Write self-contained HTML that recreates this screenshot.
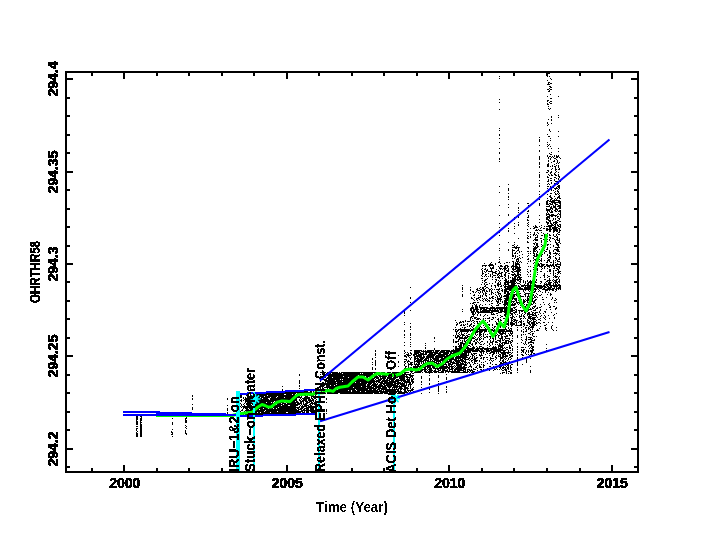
<!DOCTYPE html><html><head><meta charset="utf-8"><style>html,body{margin:0;padding:0;background:#fff;width:704px;height:544px;overflow:hidden}svg{display:block}text{font-family:"Liberation Sans",sans-serif}</style></head><body>
<svg width="704" height="544" viewBox="0 0 704 544">
<defs><filter id="bin" x="0" y="0" width="100%" height="100%" filterUnits="userSpaceOnUse" color-interpolation-filters="sRGB"><feComponentTransfer><feFuncA type="discrete" tableValues="0 1"/></feComponentTransfer></filter><filter id="bin2" x="0" y="0" width="100%" height="100%" filterUnits="userSpaceOnUse" color-interpolation-filters="sRGB"><feComponentTransfer><feFuncA type="discrete" tableValues="0 1 1"/></feComponentTransfer></filter></defs>
<path fill="#000" shape-rendering="crispEdges" d="M548 73h2v1h-2zM499 76h1v1h-1zM547 76h1v1h-1zM549 76h1v1h-1zM499 78h1v1h-1zM550 78h1v1h-1zM551 79h1v1h-1zM547 80h1v1h-1zM548 82h2v1h-2zM548 83h1v1h-1zM550 83h2v1h-2zM547 84h3v1h-3zM549 86h2v1h-2zM550 87h2v1h-2zM549 88h1v1h-1zM547 89h2v1h-2zM550 89h2v1h-2zM549 90h1v1h-1zM548 91h2v1h-2zM550 94h1v1h-1zM547 96h1v1h-1zM558 96h1v1h-1zM550 98h2v1h-2zM499 99h1v1h-1zM547 100h2v1h-2zM547 101h1v1h-1zM550 101h2v1h-2zM499 102h1v1h-1zM549 102h1v1h-1zM547 103h1v1h-1zM550 103h2v1h-2zM547 104h2v1h-2zM548 106h1v1h-1zM548 108h1v1h-1zM550 108h1v1h-1zM499 109h1v1h-1zM549 109h1v1h-1zM558 115h1v1h-1zM551 116h1v1h-1zM551 117h1v1h-1zM558 117h1v1h-1zM548 119h1v1h-1zM551 119h1v1h-1zM551 120h1v1h-1zM547 122h1v1h-1zM547 123h1v1h-1zM551 123h1v1h-1zM548 124h1v1h-1zM547 125h1v1h-1zM499 128h1v1h-1zM549 129h1v1h-1zM499 130h1v1h-1zM549 130h1v1h-1zM550 131h1v1h-1zM558 131h1v1h-1zM499 134h1v1h-1zM547 134h1v1h-1zM499 135h1v1h-1zM548 136h2v1h-2zM558 136h1v1h-1zM539 137h1v1h-1zM499 138h1v1h-1zM550 138h1v1h-1zM539 139h1v1h-1zM539 140h1v1h-1zM550 140h1v1h-1zM539 141h1v1h-1zM499 142h1v1h-1zM547 142h1v1h-1zM547 144h1v1h-1zM549 144h1v1h-1zM539 145h1v1h-1zM548 145h1v1h-1zM547 146h1v1h-1zM550 146h1v1h-1zM499 148h1v1h-1zM548 148h1v1h-1zM551 148h1v1h-1zM558 148h1v1h-1zM539 150h1v1h-1zM539 151h1v1h-1zM558 151h1v1h-1zM499 152h1v1h-1zM551 152h1v1h-1zM499 153h1v1h-1zM549 153h1v1h-1zM550 154h2v1h-2zM547 155h1v1h-1zM554 155h1v1h-1zM556 155h1v1h-1zM558 155h1v1h-1zM539 156h1v1h-1zM547 156h1v1h-1zM549 156h2v1h-2zM552 156h1v1h-1zM554 156h1v1h-1zM556 156h3v1h-3zM539 157h1v1h-1zM548 157h1v1h-1zM551 157h1v1h-1zM553 157h1v1h-1zM556 157h2v1h-2zM559 157h1v1h-1zM499 158h1v1h-1zM539 158h1v1h-1zM548 158h1v1h-1zM550 158h1v1h-1zM554 158h2v1h-2zM560 158h1v1h-1zM499 159h1v1h-1zM539 159h1v1h-1zM550 159h1v1h-1zM556 159h1v1h-1zM548 160h1v1h-1zM554 160h1v1h-1zM557 160h1v1h-1zM499 161h1v1h-1zM548 161h1v1h-1zM553 161h2v1h-2zM557 161h1v1h-1zM539 162h1v1h-1zM551 162h1v1h-1zM557 162h1v1h-1zM559 162h1v1h-1zM539 163h1v1h-1zM548 163h1v1h-1zM556 163h1v1h-1zM558 163h1v1h-1zM539 164h1v1h-1zM547 164h2v1h-2zM554 164h1v1h-1zM547 165h2v1h-2zM552 165h1v1h-1zM556 165h1v1h-1zM558 165h1v1h-1zM539 166h1v1h-1zM547 166h2v1h-2zM550 166h1v1h-1zM552 166h1v1h-1zM554 166h2v1h-2zM558 166h1v1h-1zM539 167h1v1h-1zM555 167h1v1h-1zM558 167h1v1h-1zM552 168h1v1h-1zM555 168h1v1h-1zM559 168h1v1h-1zM551 169h1v1h-1zM555 169h2v1h-2zM558 169h2v1h-2zM547 170h2v1h-2zM555 170h1v1h-1zM548 171h1v1h-1zM551 171h1v1h-1zM556 171h1v1h-1zM539 172h1v1h-1zM546 172h2v1h-2zM550 172h2v1h-2zM555 172h1v1h-1zM558 172h1v1h-1zM550 173h1v1h-1zM554 173h1v1h-1zM539 174h1v1h-1zM548 174h1v1h-1zM551 174h1v1h-1zM554 174h2v1h-2zM558 174h1v1h-1zM539 175h1v1h-1zM549 175h1v1h-1zM551 175h2v1h-2zM555 175h2v1h-2zM558 175h1v1h-1zM539 176h1v1h-1zM547 176h1v1h-1zM558 176h2v1h-2zM539 177h1v1h-1zM547 177h2v1h-2zM554 177h2v1h-2zM559 177h1v1h-1zM550 178h2v1h-2zM556 178h1v1h-1zM558 178h1v1h-1zM548 179h1v1h-1zM554 179h1v1h-1zM558 179h1v1h-1zM539 180h1v1h-1zM548 180h1v1h-1zM550 180h2v1h-2zM554 180h1v1h-1zM559 180h1v1h-1zM547 181h2v1h-2zM555 181h6v1h-6zM551 182h1v1h-1zM539 183h1v1h-1zM548 183h1v1h-1zM551 183h1v1h-1zM554 183h3v1h-3zM558 183h1v1h-1zM508 184h1v1h-1zM547 184h1v1h-1zM549 184h1v1h-1zM554 184h1v1h-1zM557 184h1v1h-1zM539 185h1v1h-1zM558 185h2v1h-2zM499 186h1v1h-1zM539 186h1v1h-1zM547 186h2v1h-2zM550 186h1v1h-1zM552 186h1v1h-1zM557 186h3v1h-3zM550 187h4v1h-4zM556 187h1v1h-1zM558 187h2v1h-2zM508 188h1v1h-1zM547 188h1v1h-1zM550 188h2v1h-2zM554 188h4v1h-4zM559 188h1v1h-1zM508 189h1v1h-1zM548 189h1v1h-1zM551 189h1v1h-1zM555 189h1v1h-1zM558 189h1v1h-1zM508 190h1v1h-1zM547 190h1v1h-1zM551 190h1v1h-1zM553 190h1v1h-1zM557 190h1v1h-1zM539 191h1v1h-1zM548 191h1v1h-1zM555 191h1v1h-1zM557 191h2v1h-2zM499 192h1v1h-1zM554 192h1v1h-1zM558 192h1v1h-1zM508 193h1v1h-1zM550 193h2v1h-2zM555 193h1v1h-1zM557 193h1v1h-1zM559 193h1v1h-1zM539 194h1v1h-1zM547 194h1v1h-1zM555 194h2v1h-2zM558 194h1v1h-1zM550 195h1v1h-1zM559 195h1v1h-1zM508 196h1v1h-1zM539 196h1v1h-1zM549 196h2v1h-2zM554 196h1v1h-1zM558 196h2v1h-2zM508 197h1v1h-1zM550 197h2v1h-2zM557 197h3v1h-3zM547 198h1v1h-1zM551 198h2v1h-2zM555 198h1v1h-1zM557 198h1v1h-1zM559 198h2v1h-2zM508 199h1v1h-1zM539 199h1v1h-1zM550 199h2v1h-2zM554 199h1v1h-1zM556 199h1v1h-1zM547 200h2v1h-2zM550 200h1v1h-1zM552 200h8v1h-8zM546 201h2v1h-2zM549 201h6v1h-6zM558 201h3v1h-3zM546 202h2v1h-2zM551 202h10v1h-10zM518 203h1v1h-1zM527 203h2v1h-2zM539 203h1v1h-1zM546 203h2v1h-2zM549 203h2v1h-2zM552 203h1v1h-1zM554 203h2v1h-2zM559 203h2v1h-2zM508 204h1v1h-1zM539 204h1v1h-1zM546 204h3v1h-3zM550 204h3v1h-3zM555 204h3v1h-3zM560 204h1v1h-1zM499 205h1v1h-1zM528 205h1v1h-1zM539 205h1v1h-1zM549 205h1v1h-1zM553 205h1v1h-1zM555 205h1v1h-1zM558 205h3v1h-3zM528 206h1v1h-1zM546 206h4v1h-4zM551 206h1v1h-1zM553 206h3v1h-3zM557 206h4v1h-4zM508 207h1v1h-1zM518 207h1v1h-1zM527 207h1v1h-1zM550 207h2v1h-2zM553 207h3v1h-3zM559 207h2v1h-2zM518 208h1v1h-1zM546 208h1v1h-1zM550 208h3v1h-3zM555 208h2v1h-2zM558 208h3v1h-3zM546 209h5v1h-5zM552 209h1v1h-1zM555 209h3v1h-3zM518 210h1v1h-1zM528 210h1v1h-1zM546 210h4v1h-4zM551 210h1v1h-1zM554 210h2v1h-2zM557 210h1v1h-1zM559 210h2v1h-2zM527 211h2v1h-2zM547 211h1v1h-1zM549 211h1v1h-1zM551 211h2v1h-2zM555 211h2v1h-2zM558 211h3v1h-3zM518 212h1v1h-1zM547 212h1v1h-1zM550 212h3v1h-3zM560 212h1v1h-1zM527 213h1v1h-1zM546 213h1v1h-1zM548 213h1v1h-1zM558 213h1v1h-1zM560 213h1v1h-1zM508 214h1v1h-1zM546 214h4v1h-4zM551 214h3v1h-3zM557 214h1v1h-1zM559 214h2v1h-2zM499 215h1v1h-1zM508 215h1v1h-1zM528 215h1v1h-1zM539 215h1v1h-1zM546 215h1v1h-1zM549 215h8v1h-8zM560 215h1v1h-1zM518 216h1v1h-1zM528 216h1v1h-1zM547 216h3v1h-3zM551 216h2v1h-2zM555 216h1v1h-1zM557 216h2v1h-2zM560 216h1v1h-1zM514 217h1v1h-1zM518 217h1v1h-1zM527 217h2v1h-2zM546 217h4v1h-4zM557 217h1v1h-1zM560 217h1v1h-1zM514 218h1v1h-1zM546 218h2v1h-2zM549 218h1v1h-1zM553 218h1v1h-1zM555 218h1v1h-1zM558 218h2v1h-2zM514 219h1v1h-1zM527 219h1v1h-1zM539 219h1v1h-1zM546 219h3v1h-3zM553 219h1v1h-1zM555 219h1v1h-1zM559 219h1v1h-1zM527 220h2v1h-2zM548 220h3v1h-3zM552 220h1v1h-1zM557 220h2v1h-2zM546 221h1v1h-1zM549 221h2v1h-2zM555 221h2v1h-2zM559 221h2v1h-2zM508 222h1v1h-1zM518 222h1v1h-1zM528 222h1v1h-1zM539 222h1v1h-1zM546 222h3v1h-3zM550 222h1v1h-1zM553 222h5v1h-5zM499 223h1v1h-1zM514 223h1v1h-1zM527 223h1v1h-1zM547 223h2v1h-2zM550 223h2v1h-2zM553 223h1v1h-1zM555 223h2v1h-2zM518 224h1v1h-1zM528 224h1v1h-1zM547 224h1v1h-1zM551 224h2v1h-2zM554 224h2v1h-2zM557 224h1v1h-1zM559 224h2v1h-2zM518 225h1v1h-1zM527 225h1v1h-1zM535 225h1v1h-1zM541 225h1v1h-1zM548 225h6v1h-6zM555 225h1v1h-1zM557 225h2v1h-2zM560 225h1v1h-1zM514 226h1v1h-1zM528 226h1v1h-1zM533 226h1v1h-1zM535 226h2v1h-2zM539 226h1v1h-1zM544 226h1v1h-1zM546 226h6v1h-6zM554 226h2v1h-2zM558 226h3v1h-3zM499 227h1v1h-1zM534 227h4v1h-4zM541 227h1v1h-1zM549 227h2v1h-2zM552 227h6v1h-6zM560 227h1v1h-1zM508 228h1v1h-1zM514 228h1v1h-1zM530 228h1v1h-1zM533 228h2v1h-2zM540 228h1v1h-1zM543 228h2v1h-2zM546 228h2v1h-2zM549 228h2v1h-2zM552 228h5v1h-5zM558 228h2v1h-2zM527 229h1v1h-1zM536 229h1v1h-1zM538 229h1v1h-1zM546 229h6v1h-6zM553 229h5v1h-5zM559 229h1v1h-1zM508 230h1v1h-1zM535 230h3v1h-3zM539 230h3v1h-3zM546 230h2v1h-2zM549 230h2v1h-2zM553 230h5v1h-5zM559 230h2v1h-2zM499 231h1v1h-1zM508 231h1v1h-1zM549 231h2v1h-2zM553 231h2v1h-2zM556 231h2v1h-2zM559 231h1v1h-1zM499 232h1v1h-1zM527 232h2v1h-2zM530 232h1v1h-1zM534 232h1v1h-1zM537 232h1v1h-1zM541 232h1v1h-1zM553 232h1v1h-1zM558 232h2v1h-2zM514 233h1v1h-1zM534 233h1v1h-1zM538 233h1v1h-1zM543 233h1v1h-1zM547 233h1v1h-1zM557 233h1v1h-1zM530 234h1v1h-1zM533 234h2v1h-2zM536 234h1v1h-1zM544 234h1v1h-1zM546 234h1v1h-1zM549 234h1v1h-1zM553 234h1v1h-1zM556 234h1v1h-1zM558 234h2v1h-2zM499 235h1v1h-1zM527 235h1v1h-1zM533 235h1v1h-1zM535 235h1v1h-1zM537 235h1v1h-1zM541 235h2v1h-2zM544 235h1v1h-1zM547 235h1v1h-1zM549 235h2v1h-2zM553 235h1v1h-1zM556 235h1v1h-1zM528 236h1v1h-1zM530 236h1v1h-1zM537 236h1v1h-1zM544 236h2v1h-2zM547 236h1v1h-1zM554 236h2v1h-2zM557 236h1v1h-1zM527 237h1v1h-1zM530 237h1v1h-1zM535 237h3v1h-3zM544 237h1v1h-1zM549 237h2v1h-2zM556 237h2v1h-2zM518 238h1v1h-1zM527 238h2v1h-2zM535 238h1v1h-1zM540 238h2v1h-2zM550 238h1v1h-1zM552 238h2v1h-2zM557 238h1v1h-1zM559 238h1v1h-1zM534 239h4v1h-4zM543 239h2v1h-2zM547 239h1v1h-1zM549 239h1v1h-1zM554 239h1v1h-1zM556 239h2v1h-2zM559 239h1v1h-1zM533 240h1v1h-1zM535 240h3v1h-3zM541 240h1v1h-1zM544 240h1v1h-1zM549 240h1v1h-1zM555 240h1v1h-1zM557 240h3v1h-3zM527 241h1v1h-1zM541 241h1v1h-1zM547 241h1v1h-1zM550 241h1v1h-1zM555 241h1v1h-1zM559 241h1v1h-1zM508 242h1v1h-1zM514 242h1v1h-1zM527 242h2v1h-2zM535 242h1v1h-1zM541 242h1v1h-1zM545 242h1v1h-1zM555 242h2v1h-2zM558 242h2v1h-2zM533 243h2v1h-2zM536 243h2v1h-2zM544 243h1v1h-1zM556 243h2v1h-2zM560 243h1v1h-1zM499 244h1v1h-1zM514 244h1v1h-1zM534 244h1v1h-1zM536 244h2v1h-2zM541 244h1v1h-1zM547 244h2v1h-2zM550 244h1v1h-1zM556 244h3v1h-3zM512 245h2v1h-2zM517 245h1v1h-1zM536 245h2v1h-2zM542 245h1v1h-1zM547 245h1v1h-1zM553 245h1v1h-1zM557 245h2v1h-2zM514 246h1v1h-1zM516 246h1v1h-1zM533 246h1v1h-1zM535 246h1v1h-1zM537 246h2v1h-2zM541 246h1v1h-1zM553 246h1v1h-1zM558 246h1v1h-1zM512 247h8v1h-8zM527 247h2v1h-2zM534 247h4v1h-4zM544 247h1v1h-1zM547 247h1v1h-1zM550 247h1v1h-1zM555 247h5v1h-5zM499 248h1v1h-1zM515 248h2v1h-2zM518 248h1v1h-1zM528 248h1v1h-1zM533 248h4v1h-4zM547 248h1v1h-1zM557 248h1v1h-1zM508 249h1v1h-1zM512 249h1v1h-1zM518 249h1v1h-1zM533 249h3v1h-3zM539 249h1v1h-1zM546 249h2v1h-2zM554 249h5v1h-5zM499 250h1v1h-1zM508 250h1v1h-1zM512 250h3v1h-3zM517 250h2v1h-2zM533 250h2v1h-2zM536 250h1v1h-1zM541 250h1v1h-1zM544 250h1v1h-1zM549 250h1v1h-1zM553 250h1v1h-1zM556 250h3v1h-3zM512 251h1v1h-1zM516 251h1v1h-1zM519 251h1v1h-1zM521 251h1v1h-1zM527 251h2v1h-2zM530 251h1v1h-1zM533 251h3v1h-3zM537 251h1v1h-1zM545 251h2v1h-2zM549 251h1v1h-1zM553 251h1v1h-1zM557 251h3v1h-3zM512 252h1v1h-1zM515 252h1v1h-1zM519 252h1v1h-1zM533 252h1v1h-1zM537 252h1v1h-1zM541 252h1v1h-1zM544 252h1v1h-1zM549 252h2v1h-2zM555 252h1v1h-1zM512 253h1v1h-1zM514 253h2v1h-2zM517 253h1v1h-1zM528 253h1v1h-1zM530 253h1v1h-1zM533 253h2v1h-2zM536 253h1v1h-1zM539 253h1v1h-1zM541 253h1v1h-1zM544 253h1v1h-1zM549 253h2v1h-2zM553 253h5v1h-5zM559 253h1v1h-1zM512 254h1v1h-1zM522 254h1v1h-1zM534 254h1v1h-1zM536 254h2v1h-2zM541 254h2v1h-2zM547 254h1v1h-1zM550 254h1v1h-1zM556 254h1v1h-1zM558 254h1v1h-1zM512 255h2v1h-2zM515 255h1v1h-1zM519 255h1v1h-1zM528 255h1v1h-1zM533 255h2v1h-2zM536 255h3v1h-3zM541 255h1v1h-1zM547 255h1v1h-1zM549 255h1v1h-1zM555 255h1v1h-1zM559 255h1v1h-1zM512 256h2v1h-2zM515 256h1v1h-1zM517 256h1v1h-1zM527 256h1v1h-1zM534 256h3v1h-3zM541 256h1v1h-1zM549 256h2v1h-2zM553 256h1v1h-1zM499 257h1v1h-1zM515 257h1v1h-1zM519 257h1v1h-1zM522 257h1v1h-1zM533 257h1v1h-1zM548 257h3v1h-3zM555 257h1v1h-1zM559 257h1v1h-1zM512 258h1v1h-1zM514 258h1v1h-1zM517 258h2v1h-2zM520 258h1v1h-1zM528 258h1v1h-1zM533 258h1v1h-1zM536 258h3v1h-3zM541 258h1v1h-1zM547 258h1v1h-1zM550 258h1v1h-1zM555 258h2v1h-2zM559 258h1v1h-1zM499 259h1v1h-1zM516 259h3v1h-3zM527 259h2v1h-2zM534 259h2v1h-2zM539 259h1v1h-1zM541 259h1v1h-1zM548 259h2v1h-2zM556 259h1v1h-1zM558 259h2v1h-2zM516 260h1v1h-1zM518 260h1v1h-1zM530 260h1v1h-1zM533 260h1v1h-1zM535 260h3v1h-3zM540 260h2v1h-2zM544 260h1v1h-1zM547 260h3v1h-3zM553 260h1v1h-1zM555 260h1v1h-1zM557 260h1v1h-1zM499 261h1v1h-1zM512 261h2v1h-2zM516 261h3v1h-3zM520 261h1v1h-1zM528 261h1v1h-1zM530 261h1v1h-1zM539 261h1v1h-1zM541 261h1v1h-1zM547 261h1v1h-1zM549 261h1v1h-1zM553 261h1v1h-1zM557 261h3v1h-3zM491 262h1v1h-1zM498 262h2v1h-2zM506 262h2v1h-2zM509 262h1v1h-1zM513 262h1v1h-1zM515 262h1v1h-1zM517 262h1v1h-1zM519 262h1v1h-1zM521 262h1v1h-1zM534 262h1v1h-1zM546 262h2v1h-2zM550 262h2v1h-2zM553 262h1v1h-1zM555 262h1v1h-1zM560 262h1v1h-1zM484 263h1v1h-1zM490 263h1v1h-1zM495 263h1v1h-1zM500 263h1v1h-1zM504 263h1v1h-1zM513 263h1v1h-1zM515 263h4v1h-4zM527 263h1v1h-1zM533 263h1v1h-1zM535 263h2v1h-2zM538 263h1v1h-1zM540 263h2v1h-2zM553 263h1v1h-1zM557 263h1v1h-1zM560 263h1v1h-1zM489 264h4v1h-4zM495 264h1v1h-1zM513 264h1v1h-1zM515 264h5v1h-5zM535 264h5v1h-5zM541 264h4v1h-4zM546 264h2v1h-2zM550 264h1v1h-1zM552 264h2v1h-2zM555 264h6v1h-6zM482 265h5v1h-5zM488 265h6v1h-6zM500 265h2v1h-2zM505 265h3v1h-3zM512 265h2v1h-2zM515 265h2v1h-2zM519 265h1v1h-1zM534 265h6v1h-6zM541 265h3v1h-3zM546 265h8v1h-8zM555 265h2v1h-2zM560 265h1v1h-1zM482 266h1v1h-1zM485 266h1v1h-1zM489 266h1v1h-1zM493 266h1v1h-1zM498 266h1v1h-1zM500 266h3v1h-3zM504 266h2v1h-2zM507 266h2v1h-2zM511 266h7v1h-7zM519 266h1v1h-1zM528 266h1v1h-1zM530 266h1v1h-1zM535 266h1v1h-1zM537 266h1v1h-1zM539 266h4v1h-4zM544 266h2v1h-2zM547 266h3v1h-3zM551 266h1v1h-1zM553 266h2v1h-2zM556 266h4v1h-4zM490 267h1v1h-1zM492 267h2v1h-2zM499 267h1v1h-1zM504 267h2v1h-2zM507 267h1v1h-1zM511 267h1v1h-1zM513 267h1v1h-1zM515 267h6v1h-6zM533 267h1v1h-1zM541 267h1v1h-1zM544 267h1v1h-1zM549 267h1v1h-1zM554 267h1v1h-1zM558 267h2v1h-2zM482 268h1v1h-1zM485 268h1v1h-1zM490 268h4v1h-4zM499 268h3v1h-3zM503 268h4v1h-4zM508 268h1v1h-1zM512 268h2v1h-2zM515 268h5v1h-5zM537 268h1v1h-1zM542 268h1v1h-1zM544 268h1v1h-1zM547 268h1v1h-1zM553 268h2v1h-2zM556 268h2v1h-2zM559 268h1v1h-1zM481 269h1v1h-1zM484 269h2v1h-2zM487 269h1v1h-1zM491 269h1v1h-1zM496 269h1v1h-1zM500 269h1v1h-1zM502 269h1v1h-1zM504 269h2v1h-2zM508 269h1v1h-1zM512 269h4v1h-4zM517 269h4v1h-4zM527 269h1v1h-1zM533 269h5v1h-5zM541 269h1v1h-1zM549 269h2v1h-2zM557 269h2v1h-2zM482 270h1v1h-1zM486 270h2v1h-2zM491 270h1v1h-1zM498 270h1v1h-1zM504 270h1v1h-1zM506 270h3v1h-3zM513 270h1v1h-1zM516 270h5v1h-5zM530 270h1v1h-1zM535 270h1v1h-1zM537 270h1v1h-1zM549 270h2v1h-2zM553 270h1v1h-1zM555 270h2v1h-2zM558 270h1v1h-1zM482 271h1v1h-1zM484 271h1v1h-1zM486 271h1v1h-1zM488 271h5v1h-5zM495 271h2v1h-2zM499 271h1v1h-1zM504 271h1v1h-1zM507 271h2v1h-2zM511 271h2v1h-2zM514 271h6v1h-6zM527 271h1v1h-1zM530 271h1v1h-1zM534 271h2v1h-2zM540 271h2v1h-2zM547 271h1v1h-1zM549 271h2v1h-2zM553 271h1v1h-1zM558 271h3v1h-3zM482 272h1v1h-1zM485 272h1v1h-1zM492 272h4v1h-4zM499 272h1v1h-1zM501 272h2v1h-2zM505 272h2v1h-2zM512 272h2v1h-2zM517 272h2v1h-2zM520 272h1v1h-1zM528 272h1v1h-1zM535 272h1v1h-1zM537 272h1v1h-1zM553 272h1v1h-1zM557 272h3v1h-3zM482 273h2v1h-2zM488 273h1v1h-1zM492 273h1v1h-1zM495 273h2v1h-2zM498 273h4v1h-4zM505 273h1v1h-1zM508 273h2v1h-2zM514 273h1v1h-1zM517 273h2v1h-2zM544 273h1v1h-1zM550 273h1v1h-1zM553 273h1v1h-1zM555 273h1v1h-1zM558 273h1v1h-1zM560 273h1v1h-1zM482 274h1v1h-1zM485 274h2v1h-2zM490 274h1v1h-1zM492 274h1v1h-1zM497 274h2v1h-2zM501 274h1v1h-1zM504 274h2v1h-2zM511 274h5v1h-5zM517 274h4v1h-4zM527 274h1v1h-1zM530 274h1v1h-1zM533 274h3v1h-3zM537 274h1v1h-1zM544 274h1v1h-1zM553 274h1v1h-1zM557 274h1v1h-1zM481 275h1v1h-1zM485 275h1v1h-1zM490 275h1v1h-1zM493 275h3v1h-3zM497 275h1v1h-1zM499 275h1v1h-1zM501 275h1v1h-1zM504 275h2v1h-2zM508 275h1v1h-1zM512 275h2v1h-2zM515 275h4v1h-4zM520 275h1v1h-1zM534 275h1v1h-1zM543 275h2v1h-2zM547 275h1v1h-1zM553 275h1v1h-1zM555 275h1v1h-1zM482 276h1v1h-1zM484 276h1v1h-1zM486 276h1v1h-1zM488 276h1v1h-1zM490 276h1v1h-1zM492 276h1v1h-1zM498 276h1v1h-1zM500 276h3v1h-3zM505 276h1v1h-1zM508 276h1v1h-1zM514 276h3v1h-3zM518 276h2v1h-2zM528 276h1v1h-1zM530 276h1v1h-1zM534 276h1v1h-1zM536 276h1v1h-1zM544 276h1v1h-1zM548 276h2v1h-2zM554 276h4v1h-4zM559 276h1v1h-1zM492 277h1v1h-1zM495 277h1v1h-1zM497 277h3v1h-3zM504 277h1v1h-1zM508 277h1v1h-1zM510 277h1v1h-1zM512 277h1v1h-1zM514 277h2v1h-2zM517 277h5v1h-5zM533 277h2v1h-2zM540 277h1v1h-1zM544 277h1v1h-1zM547 277h1v1h-1zM553 277h1v1h-1zM555 277h2v1h-2zM558 277h1v1h-1zM481 278h2v1h-2zM487 278h1v1h-1zM499 278h1v1h-1zM502 278h1v1h-1zM505 278h1v1h-1zM508 278h1v1h-1zM512 278h4v1h-4zM517 278h1v1h-1zM519 278h2v1h-2zM549 278h1v1h-1zM558 278h1v1h-1zM485 279h2v1h-2zM492 279h1v1h-1zM495 279h2v1h-2zM505 279h2v1h-2zM512 279h10v1h-10zM536 279h1v1h-1zM544 279h2v1h-2zM549 279h1v1h-1zM553 279h1v1h-1zM556 279h2v1h-2zM559 279h1v1h-1zM482 280h1v1h-1zM484 280h2v1h-2zM496 280h1v1h-1zM498 280h1v1h-1zM500 280h1v1h-1zM504 280h3v1h-3zM508 280h1v1h-1zM510 280h6v1h-6zM517 280h2v1h-2zM520 280h1v1h-1zM523 280h1v1h-1zM527 280h1v1h-1zM530 280h1v1h-1zM532 280h3v1h-3zM536 280h1v1h-1zM547 280h4v1h-4zM552 280h1v1h-1zM554 280h3v1h-3zM559 280h1v1h-1zM484 281h1v1h-1zM495 281h1v1h-1zM499 281h1v1h-1zM505 281h4v1h-4zM510 281h6v1h-6zM519 281h2v1h-2zM523 281h1v1h-1zM525 281h1v1h-1zM527 281h1v1h-1zM529 281h3v1h-3zM533 281h3v1h-3zM540 281h2v1h-2zM546 281h2v1h-2zM549 281h1v1h-1zM553 281h1v1h-1zM555 281h2v1h-2zM558 281h2v1h-2zM482 282h1v1h-1zM485 282h2v1h-2zM495 282h1v1h-1zM498 282h1v1h-1zM500 282h1v1h-1zM504 282h11v1h-11zM516 282h1v1h-1zM520 282h1v1h-1zM523 282h1v1h-1zM525 282h1v1h-1zM528 282h4v1h-4zM533 282h4v1h-4zM541 282h1v1h-1zM545 282h1v1h-1zM548 282h4v1h-4zM554 282h4v1h-4zM559 282h1v1h-1zM484 283h1v1h-1zM489 283h1v1h-1zM492 283h1v1h-1zM497 283h2v1h-2zM500 283h1v1h-1zM504 283h2v1h-2zM507 283h2v1h-2zM511 283h5v1h-5zM517 283h3v1h-3zM525 283h1v1h-1zM527 283h2v1h-2zM530 283h5v1h-5zM540 283h1v1h-1zM544 283h1v1h-1zM546 283h1v1h-1zM548 283h3v1h-3zM553 283h1v1h-1zM555 283h1v1h-1zM557 283h1v1h-1zM481 284h1v1h-1zM484 284h1v1h-1zM486 284h2v1h-2zM497 284h4v1h-4zM504 284h5v1h-5zM511 284h4v1h-4zM520 284h1v1h-1zM524 284h1v1h-1zM527 284h2v1h-2zM530 284h1v1h-1zM533 284h3v1h-3zM544 284h7v1h-7zM553 284h1v1h-1zM555 284h2v1h-2zM558 284h2v1h-2zM462 285h1v1h-1zM485 285h1v1h-1zM491 285h1v1h-1zM494 285h2v1h-2zM497 285h2v1h-2zM501 285h1v1h-1zM503 285h1v1h-1zM505 285h1v1h-1zM508 285h9v1h-9zM518 285h1v1h-1zM521 285h21v1h-21zM543 285h2v1h-2zM546 285h2v1h-2zM549 285h12v1h-12zM484 286h2v1h-2zM491 286h1v1h-1zM495 286h1v1h-1zM498 286h1v1h-1zM500 286h2v1h-2zM504 286h11v1h-11zM516 286h1v1h-1zM518 286h2v1h-2zM521 286h3v1h-3zM525 286h1v1h-1zM527 286h5v1h-5zM533 286h13v1h-13zM547 286h2v1h-2zM550 286h2v1h-2zM553 286h5v1h-5zM559 286h2v1h-2zM410 287h1v1h-1zM462 287h1v1h-1zM470 287h1v1h-1zM480 287h1v1h-1zM482 287h2v1h-2zM486 287h2v1h-2zM495 287h1v1h-1zM504 287h2v1h-2zM507 287h11v1h-11zM519 287h2v1h-2zM524 287h10v1h-10zM536 287h7v1h-7zM544 287h3v1h-3zM548 287h4v1h-4zM554 287h1v1h-1zM556 287h1v1h-1zM558 287h3v1h-3zM462 288h1v1h-1zM477 288h1v1h-1zM479 288h1v1h-1zM482 288h2v1h-2zM485 288h1v1h-1zM488 288h1v1h-1zM491 288h1v1h-1zM499 288h1v1h-1zM501 288h1v1h-1zM505 288h18v1h-18zM524 288h12v1h-12zM537 288h1v1h-1zM539 288h3v1h-3zM543 288h2v1h-2zM547 288h4v1h-4zM552 288h3v1h-3zM556 288h5v1h-5zM462 289h1v1h-1zM470 289h1v1h-1zM476 289h2v1h-2zM480 289h2v1h-2zM483 289h2v1h-2zM489 289h2v1h-2zM492 289h1v1h-1zM494 289h1v1h-1zM496 289h4v1h-4zM502 289h1v1h-1zM504 289h33v1h-33zM538 289h1v1h-1zM542 289h12v1h-12zM555 289h2v1h-2zM558 289h1v1h-1zM560 289h1v1h-1zM470 290h1v1h-1zM477 290h3v1h-3zM482 290h3v1h-3zM486 290h1v1h-1zM489 290h1v1h-1zM491 290h1v1h-1zM498 290h1v1h-1zM501 290h2v1h-2zM504 290h3v1h-3zM509 290h6v1h-6zM517 290h1v1h-1zM523 290h1v1h-1zM525 290h1v1h-1zM528 290h1v1h-1zM530 290h4v1h-4zM535 290h1v1h-1zM539 290h1v1h-1zM545 290h3v1h-3zM549 290h1v1h-1zM552 290h2v1h-2zM556 290h1v1h-1zM462 291h1v1h-1zM472 291h2v1h-2zM476 291h1v1h-1zM480 291h1v1h-1zM482 291h1v1h-1zM484 291h1v1h-1zM486 291h2v1h-2zM489 291h1v1h-1zM491 291h1v1h-1zM497 291h1v1h-1zM499 291h1v1h-1zM502 291h1v1h-1zM504 291h5v1h-5zM511 291h3v1h-3zM515 291h1v1h-1zM519 291h1v1h-1zM523 291h1v1h-1zM529 291h1v1h-1zM532 291h1v1h-1zM534 291h2v1h-2zM538 291h1v1h-1zM540 291h1v1h-1zM545 291h1v1h-1zM555 291h1v1h-1zM473 292h1v1h-1zM475 292h1v1h-1zM478 292h1v1h-1zM480 292h1v1h-1zM482 292h1v1h-1zM485 292h1v1h-1zM491 292h2v1h-2zM495 292h1v1h-1zM497 292h2v1h-2zM504 292h2v1h-2zM507 292h2v1h-2zM510 292h1v1h-1zM513 292h2v1h-2zM524 292h1v1h-1zM533 292h2v1h-2zM542 292h1v1h-1zM545 292h1v1h-1zM548 292h1v1h-1zM470 293h1v1h-1zM479 293h1v1h-1zM483 293h1v1h-1zM485 293h2v1h-2zM491 293h1v1h-1zM493 293h1v1h-1zM498 293h3v1h-3zM504 293h2v1h-2zM507 293h3v1h-3zM511 293h2v1h-2zM516 293h1v1h-1zM519 293h2v1h-2zM525 293h7v1h-7zM536 293h1v1h-1zM550 293h1v1h-1zM462 294h1v1h-1zM474 294h1v1h-1zM483 294h1v1h-1zM485 294h1v1h-1zM489 294h1v1h-1zM491 294h1v1h-1zM495 294h1v1h-1zM498 294h1v1h-1zM500 294h1v1h-1zM506 294h4v1h-4zM511 294h7v1h-7zM519 294h1v1h-1zM524 294h2v1h-2zM528 294h1v1h-1zM531 294h3v1h-3zM537 294h1v1h-1zM541 294h1v1h-1zM547 294h1v1h-1zM550 294h2v1h-2zM462 295h1v1h-1zM473 295h2v1h-2zM478 295h1v1h-1zM480 295h1v1h-1zM482 295h1v1h-1zM485 295h2v1h-2zM496 295h1v1h-1zM499 295h1v1h-1zM501 295h1v1h-1zM504 295h5v1h-5zM511 295h4v1h-4zM516 295h1v1h-1zM520 295h1v1h-1zM525 295h1v1h-1zM528 295h1v1h-1zM530 295h1v1h-1zM532 295h2v1h-2zM535 295h1v1h-1zM539 295h2v1h-2zM550 295h1v1h-1zM462 296h1v1h-1zM480 296h1v1h-1zM482 296h1v1h-1zM486 296h1v1h-1zM492 296h2v1h-2zM497 296h1v1h-1zM499 296h1v1h-1zM501 296h1v1h-1zM503 296h6v1h-6zM511 296h4v1h-4zM517 296h1v1h-1zM520 296h4v1h-4zM525 296h1v1h-1zM527 296h3v1h-3zM532 296h1v1h-1zM534 296h1v1h-1zM536 296h1v1h-1zM410 297h1v1h-1zM471 297h1v1h-1zM474 297h1v1h-1zM478 297h3v1h-3zM489 297h1v1h-1zM491 297h2v1h-2zM495 297h1v1h-1zM497 297h1v1h-1zM500 297h2v1h-2zM506 297h3v1h-3zM510 297h4v1h-4zM520 297h1v1h-1zM527 297h1v1h-1zM529 297h1v1h-1zM532 297h1v1h-1zM534 297h2v1h-2zM537 297h1v1h-1zM542 297h1v1h-1zM546 297h1v1h-1zM552 297h1v1h-1zM410 298h1v1h-1zM471 298h2v1h-2zM476 298h3v1h-3zM482 298h1v1h-1zM484 298h1v1h-1zM486 298h1v1h-1zM489 298h2v1h-2zM492 298h2v1h-2zM497 298h4v1h-4zM504 298h5v1h-5zM511 298h6v1h-6zM518 298h1v1h-1zM520 298h1v1h-1zM527 298h2v1h-2zM532 298h2v1h-2zM552 298h1v1h-1zM555 298h1v1h-1zM473 299h1v1h-1zM476 299h1v1h-1zM479 299h1v1h-1zM483 299h1v1h-1zM485 299h1v1h-1zM487 299h1v1h-1zM495 299h1v1h-1zM497 299h5v1h-5zM505 299h4v1h-4zM512 299h1v1h-1zM514 299h3v1h-3zM519 299h1v1h-1zM521 299h1v1h-1zM523 299h1v1h-1zM525 299h1v1h-1zM527 299h3v1h-3zM532 299h1v1h-1zM535 299h2v1h-2zM542 299h2v1h-2zM551 299h1v1h-1zM556 299h1v1h-1zM474 300h1v1h-1zM477 300h1v1h-1zM480 300h1v1h-1zM482 300h1v1h-1zM485 300h2v1h-2zM488 300h2v1h-2zM492 300h1v1h-1zM496 300h1v1h-1zM498 300h1v1h-1zM500 300h1v1h-1zM504 300h5v1h-5zM510 300h2v1h-2zM515 300h2v1h-2zM518 300h3v1h-3zM523 300h2v1h-2zM526 300h3v1h-3zM530 300h1v1h-1zM532 300h1v1h-1zM534 300h2v1h-2zM554 300h2v1h-2zM483 301h1v1h-1zM487 301h1v1h-1zM489 301h1v1h-1zM491 301h1v1h-1zM496 301h3v1h-3zM500 301h1v1h-1zM502 301h1v1h-1zM504 301h3v1h-3zM508 301h1v1h-1zM511 301h4v1h-4zM516 301h1v1h-1zM519 301h1v1h-1zM523 301h3v1h-3zM527 301h1v1h-1zM529 301h1v1h-1zM531 301h4v1h-4zM410 302h1v1h-1zM473 302h3v1h-3zM477 302h2v1h-2zM497 302h2v1h-2zM502 302h1v1h-1zM504 302h5v1h-5zM510 302h2v1h-2zM513 302h1v1h-1zM516 302h5v1h-5zM523 302h2v1h-2zM527 302h3v1h-3zM533 302h2v1h-2zM543 302h1v1h-1zM554 302h1v1h-1zM556 302h1v1h-1zM470 303h1v1h-1zM472 303h2v1h-2zM491 303h2v1h-2zM497 303h1v1h-1zM499 303h2v1h-2zM504 303h4v1h-4zM509 303h1v1h-1zM512 303h1v1h-1zM514 303h2v1h-2zM517 303h1v1h-1zM519 303h5v1h-5zM529 303h3v1h-3zM533 303h1v1h-1zM535 303h1v1h-1zM549 303h1v1h-1zM474 304h1v1h-1zM476 304h1v1h-1zM480 304h1v1h-1zM485 304h1v1h-1zM489 304h1v1h-1zM498 304h1v1h-1zM503 304h6v1h-6zM511 304h5v1h-5zM518 304h1v1h-1zM524 304h1v1h-1zM526 304h7v1h-7zM540 304h1v1h-1zM544 304h1v1h-1zM548 304h1v1h-1zM472 305h1v1h-1zM475 305h2v1h-2zM479 305h1v1h-1zM482 305h1v1h-1zM491 305h1v1h-1zM496 305h3v1h-3zM504 305h2v1h-2zM507 305h2v1h-2zM510 305h5v1h-5zM520 305h2v1h-2zM523 305h1v1h-1zM526 305h5v1h-5zM535 305h1v1h-1zM549 305h1v1h-1zM472 306h1v1h-1zM475 306h3v1h-3zM479 306h1v1h-1zM492 306h1v1h-1zM504 306h1v1h-1zM506 306h1v1h-1zM508 306h3v1h-3zM516 306h1v1h-1zM524 306h2v1h-2zM528 306h2v1h-2zM533 306h3v1h-3zM541 306h1v1h-1zM550 306h1v1h-1zM553 306h2v1h-2zM471 307h3v1h-3zM475 307h3v1h-3zM479 307h9v1h-9zM490 307h5v1h-5zM496 307h15v1h-15zM513 307h3v1h-3zM520 307h1v1h-1zM523 307h3v1h-3zM527 307h3v1h-3zM532 307h1v1h-1zM534 307h1v1h-1zM537 307h1v1h-1zM539 307h2v1h-2zM549 307h2v1h-2zM556 307h1v1h-1zM470 308h4v1h-4zM475 308h3v1h-3zM480 308h5v1h-5zM486 308h27v1h-27zM514 308h1v1h-1zM528 308h1v1h-1zM530 308h1v1h-1zM532 308h2v1h-2zM536 308h2v1h-2zM555 308h2v1h-2zM462 309h1v1h-1zM470 309h2v1h-2zM473 309h6v1h-6zM480 309h2v1h-2zM483 309h4v1h-4zM489 309h2v1h-2zM492 309h1v1h-1zM494 309h2v1h-2zM497 309h1v1h-1zM499 309h4v1h-4zM504 309h5v1h-5zM510 309h3v1h-3zM515 309h2v1h-2zM524 309h2v1h-2zM528 309h4v1h-4zM535 309h1v1h-1zM540 309h1v1h-1zM546 309h1v1h-1zM550 309h1v1h-1zM555 309h1v1h-1zM410 310h1v1h-1zM470 310h2v1h-2zM473 310h2v1h-2zM476 310h2v1h-2zM480 310h1v1h-1zM482 310h17v1h-17zM500 310h3v1h-3zM504 310h11v1h-11zM516 310h1v1h-1zM518 310h6v1h-6zM526 310h1v1h-1zM528 310h1v1h-1zM533 310h3v1h-3zM540 310h1v1h-1zM404 311h1v1h-1zM462 311h1v1h-1zM471 311h4v1h-4zM476 311h3v1h-3zM480 311h10v1h-10zM491 311h8v1h-8zM500 311h9v1h-9zM510 311h3v1h-3zM515 311h2v1h-2zM519 311h1v1h-1zM521 311h2v1h-2zM524 311h2v1h-2zM527 311h1v1h-1zM531 311h1v1h-1zM539 311h1v1h-1zM544 311h2v1h-2zM404 312h1v1h-1zM471 312h3v1h-3zM475 312h1v1h-1zM477 312h16v1h-16zM498 312h4v1h-4zM504 312h7v1h-7zM513 312h4v1h-4zM519 312h1v1h-1zM524 312h2v1h-2zM528 312h2v1h-2zM532 312h2v1h-2zM535 312h3v1h-3zM539 312h1v1h-1zM545 312h1v1h-1zM551 312h1v1h-1zM404 313h1v1h-1zM472 313h2v1h-2zM475 313h1v1h-1zM478 313h1v1h-1zM491 313h1v1h-1zM493 313h1v1h-1zM496 313h2v1h-2zM505 313h3v1h-3zM510 313h3v1h-3zM514 313h1v1h-1zM519 313h1v1h-1zM522 313h1v1h-1zM525 313h1v1h-1zM527 313h3v1h-3zM532 313h1v1h-1zM534 313h2v1h-2zM540 313h1v1h-1zM543 313h1v1h-1zM556 313h1v1h-1zM472 314h3v1h-3zM477 314h1v1h-1zM480 314h1v1h-1zM485 314h1v1h-1zM491 314h4v1h-4zM504 314h5v1h-5zM511 314h2v1h-2zM515 314h1v1h-1zM517 314h1v1h-1zM521 314h1v1h-1zM524 314h1v1h-1zM527 314h7v1h-7zM535 314h1v1h-1zM538 314h1v1h-1zM554 314h1v1h-1zM404 315h1v1h-1zM473 315h1v1h-1zM477 315h1v1h-1zM480 315h1v1h-1zM484 315h1v1h-1zM487 315h1v1h-1zM497 315h1v1h-1zM500 315h1v1h-1zM504 315h2v1h-2zM508 315h1v1h-1zM510 315h1v1h-1zM512 315h1v1h-1zM519 315h1v1h-1zM521 315h1v1h-1zM523 315h1v1h-1zM527 315h1v1h-1zM529 315h1v1h-1zM532 315h5v1h-5zM541 315h1v1h-1zM544 315h1v1h-1zM548 315h1v1h-1zM553 315h1v1h-1zM471 316h3v1h-3zM483 316h1v1h-1zM501 316h2v1h-2zM505 316h1v1h-1zM508 316h1v1h-1zM512 316h2v1h-2zM516 316h1v1h-1zM519 316h3v1h-3zM523 316h2v1h-2zM528 316h4v1h-4zM536 316h1v1h-1zM540 316h1v1h-1zM545 316h1v1h-1zM470 317h2v1h-2zM474 317h3v1h-3zM489 317h1v1h-1zM492 317h2v1h-2zM495 317h1v1h-1zM500 317h1v1h-1zM506 317h1v1h-1zM508 317h1v1h-1zM510 317h3v1h-3zM514 317h1v1h-1zM519 317h1v1h-1zM524 317h1v1h-1zM528 317h3v1h-3zM532 317h4v1h-4zM537 317h1v1h-1zM543 317h1v1h-1zM545 317h1v1h-1zM554 317h1v1h-1zM470 318h1v1h-1zM472 318h1v1h-1zM474 318h2v1h-2zM477 318h3v1h-3zM483 318h1v1h-1zM485 318h1v1h-1zM487 318h3v1h-3zM493 318h1v1h-1zM498 318h1v1h-1zM503 318h2v1h-2zM506 318h3v1h-3zM511 318h2v1h-2zM520 318h2v1h-2zM523 318h1v1h-1zM525 318h1v1h-1zM528 318h7v1h-7zM540 318h1v1h-1zM544 318h1v1h-1zM549 318h1v1h-1zM554 318h1v1h-1zM470 319h1v1h-1zM476 319h3v1h-3zM480 319h1v1h-1zM483 319h1v1h-1zM491 319h2v1h-2zM497 319h2v1h-2zM500 319h1v1h-1zM505 319h4v1h-4zM511 319h1v1h-1zM513 319h3v1h-3zM520 319h1v1h-1zM527 319h1v1h-1zM530 319h1v1h-1zM532 319h4v1h-4zM538 319h2v1h-2zM545 319h1v1h-1zM455 320h1v1h-1zM465 320h1v1h-1zM470 320h1v1h-1zM472 320h2v1h-2zM483 320h1v1h-1zM485 320h1v1h-1zM489 320h1v1h-1zM498 320h1v1h-1zM500 320h2v1h-2zM506 320h3v1h-3zM511 320h2v1h-2zM514 320h4v1h-4zM521 320h1v1h-1zM527 320h2v1h-2zM531 320h1v1h-1zM533 320h1v1h-1zM536 320h1v1h-1zM540 320h1v1h-1zM460 321h1v1h-1zM462 321h2v1h-2zM465 321h1v1h-1zM467 321h3v1h-3zM471 321h1v1h-1zM474 321h1v1h-1zM476 321h2v1h-2zM479 321h1v1h-1zM489 321h1v1h-1zM495 321h1v1h-1zM498 321h1v1h-1zM505 321h4v1h-4zM511 321h1v1h-1zM513 321h2v1h-2zM516 321h1v1h-1zM519 321h3v1h-3zM523 321h1v1h-1zM527 321h1v1h-1zM529 321h2v1h-2zM533 321h3v1h-3zM404 322h1v1h-1zM456 322h1v1h-1zM459 322h3v1h-3zM463 322h1v1h-1zM473 322h1v1h-1zM477 322h1v1h-1zM487 322h1v1h-1zM496 322h1v1h-1zM503 322h1v1h-1zM506 322h1v1h-1zM508 322h1v1h-1zM510 322h3v1h-3zM515 322h2v1h-2zM518 322h1v1h-1zM520 322h2v1h-2zM527 322h3v1h-3zM531 322h4v1h-4zM536 322h1v1h-1zM538 322h2v1h-2zM543 322h2v1h-2zM548 322h1v1h-1zM552 322h1v1h-1zM410 323h1v1h-1zM457 323h1v1h-1zM459 323h1v1h-1zM467 323h1v1h-1zM471 323h1v1h-1zM474 323h1v1h-1zM477 323h4v1h-4zM483 323h1v1h-1zM496 323h3v1h-3zM505 323h4v1h-4zM510 323h5v1h-5zM516 323h1v1h-1zM521 323h1v1h-1zM523 323h2v1h-2zM528 323h2v1h-2zM531 323h4v1h-4zM536 323h2v1h-2zM540 323h1v1h-1zM404 324h1v1h-1zM456 324h2v1h-2zM461 324h1v1h-1zM463 324h1v1h-1zM465 324h1v1h-1zM467 324h1v1h-1zM470 324h2v1h-2zM478 324h1v1h-1zM488 324h2v1h-2zM492 324h1v1h-1zM496 324h3v1h-3zM500 324h1v1h-1zM506 324h3v1h-3zM510 324h5v1h-5zM516 324h1v1h-1zM520 324h2v1h-2zM523 324h2v1h-2zM529 324h2v1h-2zM532 324h4v1h-4zM546 324h1v1h-1zM456 325h1v1h-1zM460 325h2v1h-2zM463 325h2v1h-2zM469 325h2v1h-2zM473 325h2v1h-2zM483 325h1v1h-1zM487 325h1v1h-1zM489 325h1v1h-1zM492 325h1v1h-1zM497 325h1v1h-1zM500 325h1v1h-1zM502 325h1v1h-1zM505 325h1v1h-1zM508 325h1v1h-1zM511 325h2v1h-2zM515 325h7v1h-7zM524 325h1v1h-1zM526 325h2v1h-2zM530 325h1v1h-1zM532 325h3v1h-3zM536 325h1v1h-1zM544 325h2v1h-2zM552 325h1v1h-1zM410 326h1v1h-1zM467 326h1v1h-1zM469 326h1v1h-1zM471 326h1v1h-1zM473 326h1v1h-1zM476 326h1v1h-1zM480 326h1v1h-1zM485 326h1v1h-1zM487 326h1v1h-1zM494 326h2v1h-2zM500 326h1v1h-1zM504 326h1v1h-1zM506 326h1v1h-1zM511 326h1v1h-1zM523 326h1v1h-1zM529 326h1v1h-1zM531 326h3v1h-3zM540 326h1v1h-1zM551 326h1v1h-1zM410 327h1v1h-1zM455 327h1v1h-1zM462 327h1v1h-1zM464 327h2v1h-2zM472 327h1v1h-1zM475 327h3v1h-3zM479 327h1v1h-1zM481 327h1v1h-1zM484 327h1v1h-1zM489 327h1v1h-1zM492 327h1v1h-1zM494 327h1v1h-1zM497 327h2v1h-2zM500 327h1v1h-1zM505 327h1v1h-1zM508 327h1v1h-1zM517 327h1v1h-1zM521 327h1v1h-1zM525 327h2v1h-2zM528 327h1v1h-1zM530 327h4v1h-4zM545 327h1v1h-1zM551 327h1v1h-1zM556 327h1v1h-1zM460 328h1v1h-1zM464 328h1v1h-1zM470 328h1v1h-1zM473 328h1v1h-1zM478 328h2v1h-2zM485 328h1v1h-1zM489 328h1v1h-1zM493 328h1v1h-1zM498 328h1v1h-1zM505 328h1v1h-1zM508 328h1v1h-1zM510 328h2v1h-2zM525 328h1v1h-1zM528 328h2v1h-2zM532 328h1v1h-1zM539 328h1v1h-1zM545 328h2v1h-2zM551 328h1v1h-1zM410 329h1v1h-1zM453 329h1v1h-1zM455 329h2v1h-2zM458 329h12v1h-12zM471 329h5v1h-5zM477 329h16v1h-16zM494 329h1v1h-1zM496 329h11v1h-11zM509 329h1v1h-1zM511 329h1v1h-1zM517 329h1v1h-1zM523 329h1v1h-1zM526 329h1v1h-1zM528 329h1v1h-1zM530 329h1v1h-1zM532 329h1v1h-1zM537 329h1v1h-1zM545 329h1v1h-1zM552 329h1v1h-1zM404 330h1v1h-1zM455 330h1v1h-1zM457 330h2v1h-2zM460 330h18v1h-18zM479 330h8v1h-8zM488 330h9v1h-9zM498 330h7v1h-7zM506 330h6v1h-6zM517 330h1v1h-1zM521 330h1v1h-1zM526 330h1v1h-1zM530 330h1v1h-1zM536 330h3v1h-3zM546 330h1v1h-1zM553 330h1v1h-1zM556 330h1v1h-1zM404 331h1v1h-1zM455 331h3v1h-3zM460 331h9v1h-9zM470 331h1v1h-1zM473 331h1v1h-1zM475 331h8v1h-8zM484 331h3v1h-3zM488 331h4v1h-4zM493 331h3v1h-3zM497 331h16v1h-16zM521 331h1v1h-1zM523 331h1v1h-1zM525 331h2v1h-2zM531 331h2v1h-2zM534 331h1v1h-1zM456 332h1v1h-1zM459 332h1v1h-1zM461 332h1v1h-1zM467 332h1v1h-1zM473 332h5v1h-5zM479 332h3v1h-3zM484 332h1v1h-1zM495 332h2v1h-2zM498 332h3v1h-3zM502 332h2v1h-2zM505 332h1v1h-1zM510 332h1v1h-1zM512 332h1v1h-1zM523 332h1v1h-1zM530 332h1v1h-1zM410 333h1v1h-1zM456 333h1v1h-1zM458 333h1v1h-1zM461 333h1v1h-1zM464 333h1v1h-1zM466 333h1v1h-1zM471 333h1v1h-1zM475 333h1v1h-1zM479 333h2v1h-2zM483 333h1v1h-1zM489 333h1v1h-1zM491 333h1v1h-1zM494 333h1v1h-1zM496 333h1v1h-1zM499 333h7v1h-7zM508 333h1v1h-1zM510 333h3v1h-3zM528 333h2v1h-2zM532 333h2v1h-2zM404 334h1v1h-1zM410 334h1v1h-1zM456 334h1v1h-1zM459 334h1v1h-1zM461 334h3v1h-3zM468 334h2v1h-2zM473 334h1v1h-1zM475 334h1v1h-1zM477 334h1v1h-1zM479 334h3v1h-3zM483 334h1v1h-1zM485 334h1v1h-1zM487 334h1v1h-1zM495 334h1v1h-1zM497 334h1v1h-1zM500 334h3v1h-3zM505 334h1v1h-1zM509 334h1v1h-1zM511 334h1v1h-1zM521 334h1v1h-1zM523 334h1v1h-1zM525 334h1v1h-1zM530 334h1v1h-1zM532 334h1v1h-1zM404 335h1v1h-1zM410 335h1v1h-1zM453 335h1v1h-1zM455 335h1v1h-1zM457 335h2v1h-2zM460 335h1v1h-1zM462 335h3v1h-3zM466 335h2v1h-2zM472 335h1v1h-1zM476 335h1v1h-1zM479 335h2v1h-2zM483 335h1v1h-1zM495 335h2v1h-2zM498 335h2v1h-2zM501 335h1v1h-1zM506 335h2v1h-2zM509 335h2v1h-2zM512 335h1v1h-1zM517 335h1v1h-1zM521 335h1v1h-1zM532 335h1v1h-1zM455 336h1v1h-1zM457 336h3v1h-3zM462 336h1v1h-1zM465 336h1v1h-1zM467 336h3v1h-3zM471 336h1v1h-1zM474 336h1v1h-1zM479 336h1v1h-1zM481 336h1v1h-1zM483 336h1v1h-1zM486 336h2v1h-2zM489 336h2v1h-2zM492 336h2v1h-2zM495 336h1v1h-1zM498 336h1v1h-1zM501 336h2v1h-2zM504 336h4v1h-4zM512 336h1v1h-1zM517 336h1v1h-1zM526 336h1v1h-1zM533 336h2v1h-2zM536 336h1v1h-1zM404 337h1v1h-1zM410 337h1v1h-1zM434 337h1v1h-1zM455 337h3v1h-3zM459 337h4v1h-4zM464 337h4v1h-4zM469 337h5v1h-5zM475 337h1v1h-1zM478 337h1v1h-1zM480 337h1v1h-1zM484 337h2v1h-2zM487 337h1v1h-1zM490 337h1v1h-1zM492 337h1v1h-1zM495 337h1v1h-1zM498 337h1v1h-1zM501 337h2v1h-2zM505 337h1v1h-1zM517 337h1v1h-1zM521 337h1v1h-1zM526 337h1v1h-1zM528 337h4v1h-4zM434 338h1v1h-1zM456 338h1v1h-1zM459 338h8v1h-8zM468 338h7v1h-7zM477 338h1v1h-1zM479 338h1v1h-1zM481 338h1v1h-1zM483 338h1v1h-1zM490 338h1v1h-1zM492 338h2v1h-2zM495 338h1v1h-1zM499 338h4v1h-4zM505 338h5v1h-5zM512 338h1v1h-1zM526 338h1v1h-1zM530 338h1v1h-1zM532 338h1v1h-1zM410 339h1v1h-1zM453 339h1v1h-1zM458 339h2v1h-2zM464 339h1v1h-1zM467 339h2v1h-2zM471 339h1v1h-1zM475 339h3v1h-3zM479 339h2v1h-2zM483 339h1v1h-1zM489 339h1v1h-1zM493 339h1v1h-1zM495 339h1v1h-1zM500 339h1v1h-1zM502 339h1v1h-1zM504 339h1v1h-1zM509 339h1v1h-1zM521 339h1v1h-1zM525 339h2v1h-2zM528 339h4v1h-4zM534 339h1v1h-1zM453 340h1v1h-1zM458 340h1v1h-1zM460 340h1v1h-1zM462 340h1v1h-1zM464 340h1v1h-1zM466 340h1v1h-1zM470 340h2v1h-2zM474 340h1v1h-1zM476 340h1v1h-1zM479 340h1v1h-1zM490 340h1v1h-1zM493 340h1v1h-1zM497 340h4v1h-4zM502 340h2v1h-2zM505 340h4v1h-4zM511 340h2v1h-2zM522 340h1v1h-1zM526 340h1v1h-1zM531 340h4v1h-4zM434 341h1v1h-1zM453 341h1v1h-1zM455 341h4v1h-4zM462 341h1v1h-1zM464 341h2v1h-2zM467 341h1v1h-1zM470 341h1v1h-1zM473 341h2v1h-2zM477 341h1v1h-1zM481 341h2v1h-2zM487 341h1v1h-1zM490 341h1v1h-1zM492 341h2v1h-2zM495 341h2v1h-2zM499 341h2v1h-2zM505 341h2v1h-2zM508 341h3v1h-3zM512 341h1v1h-1zM525 341h1v1h-1zM530 341h2v1h-2zM404 342h1v1h-1zM410 342h1v1h-1zM453 342h1v1h-1zM455 342h2v1h-2zM460 342h3v1h-3zM465 342h1v1h-1zM469 342h2v1h-2zM475 342h2v1h-2zM478 342h1v1h-1zM480 342h1v1h-1zM487 342h1v1h-1zM490 342h3v1h-3zM495 342h3v1h-3zM500 342h1v1h-1zM502 342h5v1h-5zM508 342h1v1h-1zM510 342h2v1h-2zM521 342h1v1h-1zM525 342h1v1h-1zM528 342h6v1h-6zM425 343h1v1h-1zM458 343h1v1h-1zM460 343h6v1h-6zM469 343h2v1h-2zM472 343h1v1h-1zM475 343h2v1h-2zM479 343h1v1h-1zM484 343h1v1h-1zM489 343h1v1h-1zM492 343h1v1h-1zM499 343h1v1h-1zM501 343h2v1h-2zM504 343h5v1h-5zM510 343h1v1h-1zM517 343h1v1h-1zM523 343h1v1h-1zM525 343h1v1h-1zM528 343h1v1h-1zM533 343h1v1h-1zM410 344h1v1h-1zM458 344h1v1h-1zM460 344h2v1h-2zM463 344h2v1h-2zM471 344h2v1h-2zM475 344h1v1h-1zM480 344h2v1h-2zM483 344h1v1h-1zM489 344h1v1h-1zM492 344h1v1h-1zM495 344h1v1h-1zM497 344h1v1h-1zM499 344h2v1h-2zM502 344h1v1h-1zM504 344h1v1h-1zM511 344h1v1h-1zM524 344h1v1h-1zM526 344h1v1h-1zM530 344h2v1h-2zM546 344h1v1h-1zM404 345h1v1h-1zM425 345h1v1h-1zM459 345h3v1h-3zM463 345h1v1h-1zM465 345h1v1h-1zM468 345h2v1h-2zM472 345h1v1h-1zM487 345h1v1h-1zM490 345h1v1h-1zM498 345h6v1h-6zM509 345h1v1h-1zM511 345h1v1h-1zM529 345h1v1h-1zM531 345h1v1h-1zM410 346h1v1h-1zM453 346h1v1h-1zM455 346h2v1h-2zM458 346h4v1h-4zM463 346h3v1h-3zM467 346h1v1h-1zM470 346h1v1h-1zM473 346h1v1h-1zM476 346h1v1h-1zM479 346h3v1h-3zM489 346h1v1h-1zM493 346h1v1h-1zM495 346h1v1h-1zM498 346h5v1h-5zM509 346h1v1h-1zM512 346h1v1h-1zM517 346h1v1h-1zM528 346h1v1h-1zM531 346h3v1h-3zM425 347h1v1h-1zM455 347h2v1h-2zM459 347h4v1h-4zM465 347h4v1h-4zM472 347h3v1h-3zM477 347h1v1h-1zM479 347h1v1h-1zM482 347h2v1h-2zM487 347h1v1h-1zM492 347h5v1h-5zM498 347h1v1h-1zM500 347h3v1h-3zM504 347h1v1h-1zM506 347h2v1h-2zM509 347h2v1h-2zM517 347h1v1h-1zM521 347h3v1h-3zM525 347h1v1h-1zM530 347h1v1h-1zM532 347h2v1h-2zM425 348h1v1h-1zM434 348h1v1h-1zM455 348h10v1h-10zM466 348h9v1h-9zM476 348h21v1h-21zM498 348h3v1h-3zM502 348h2v1h-2zM505 348h1v1h-1zM509 348h2v1h-2zM512 348h1v1h-1zM529 348h1v1h-1zM531 348h2v1h-2zM546 348h1v1h-1zM434 349h1v1h-1zM453 349h1v1h-1zM455 349h7v1h-7zM464 349h2v1h-2zM467 349h7v1h-7zM475 349h4v1h-4zM480 349h3v1h-3zM484 349h5v1h-5zM490 349h13v1h-13zM506 349h2v1h-2zM512 349h1v1h-1zM517 349h1v1h-1zM521 349h1v1h-1zM523 349h2v1h-2zM532 349h2v1h-2zM375 350h1v1h-1zM404 350h1v1h-1zM410 350h2v1h-2zM414 350h8v1h-8zM423 350h1v1h-1zM425 350h1v1h-1zM427 350h7v1h-7zM435 350h5v1h-5zM441 350h9v1h-9zM451 350h29v1h-29zM481 350h3v1h-3zM486 350h6v1h-6zM493 350h13v1h-13zM508 350h1v1h-1zM510 350h1v1h-1zM512 350h1v1h-1zM521 350h3v1h-3zM526 350h1v1h-1zM528 350h1v1h-1zM530 350h4v1h-4zM546 350h1v1h-1zM375 351h1v1h-1zM404 351h1v1h-1zM414 351h6v1h-6zM421 351h11v1h-11zM433 351h1v1h-1zM435 351h4v1h-4zM440 351h5v1h-5zM446 351h25v1h-25zM472 351h6v1h-6zM479 351h6v1h-6zM486 351h4v1h-4zM491 351h10v1h-10zM503 351h2v1h-2zM508 351h1v1h-1zM517 351h1v1h-1zM522 351h2v1h-2zM526 351h1v1h-1zM528 351h1v1h-1zM530 351h3v1h-3zM405 352h1v1h-1zM407 352h1v1h-1zM410 352h1v1h-1zM414 352h7v1h-7zM423 352h1v1h-1zM425 352h13v1h-13zM439 352h10v1h-10zM450 352h2v1h-2zM453 352h10v1h-10zM464 352h7v1h-7zM480 352h2v1h-2zM483 352h1v1h-1zM486 352h1v1h-1zM490 352h5v1h-5zM496 352h1v1h-1zM498 352h1v1h-1zM500 352h11v1h-11zM512 352h1v1h-1zM517 352h1v1h-1zM521 352h1v1h-1zM523 352h1v1h-1zM525 352h1v1h-1zM528 352h1v1h-1zM531 352h2v1h-2zM375 353h1v1h-1zM404 353h1v1h-1zM408 353h1v1h-1zM410 353h2v1h-2zM414 353h5v1h-5zM420 353h4v1h-4zM425 353h2v1h-2zM429 353h4v1h-4zM434 353h7v1h-7zM443 353h6v1h-6zM450 353h9v1h-9zM460 353h7v1h-7zM468 353h1v1h-1zM471 353h1v1h-1zM473 353h4v1h-4zM481 353h1v1h-1zM483 353h1v1h-1zM487 353h1v1h-1zM489 353h2v1h-2zM493 353h2v1h-2zM496 353h1v1h-1zM498 353h1v1h-1zM501 353h5v1h-5zM507 353h2v1h-2zM511 353h1v1h-1zM525 353h1v1h-1zM531 353h1v1h-1zM533 353h2v1h-2zM375 354h1v1h-1zM406 354h3v1h-3zM411 354h1v1h-1zM413 354h4v1h-4zM418 354h9v1h-9zM428 354h8v1h-8zM438 354h10v1h-10zM449 354h2v1h-2zM453 354h1v1h-1zM456 354h1v1h-1zM458 354h9v1h-9zM468 354h1v1h-1zM471 354h2v1h-2zM474 354h1v1h-1zM479 354h1v1h-1zM481 354h1v1h-1zM485 354h1v1h-1zM492 354h2v1h-2zM499 354h2v1h-2zM502 354h4v1h-4zM509 354h2v1h-2zM517 354h1v1h-1zM521 354h2v1h-2zM526 354h1v1h-1zM528 354h1v1h-1zM530 354h2v1h-2zM375 355h1v1h-1zM398 355h1v1h-1zM404 355h2v1h-2zM407 355h4v1h-4zM413 355h2v1h-2zM416 355h6v1h-6zM423 355h1v1h-1zM427 355h8v1h-8zM436 355h9v1h-9zM446 355h11v1h-11zM458 355h1v1h-1zM460 355h9v1h-9zM472 355h2v1h-2zM476 355h1v1h-1zM479 355h4v1h-4zM489 355h1v1h-1zM492 355h1v1h-1zM496 355h1v1h-1zM498 355h1v1h-1zM500 355h1v1h-1zM502 355h2v1h-2zM505 355h3v1h-3zM509 355h1v1h-1zM511 355h2v1h-2zM517 355h1v1h-1zM522 355h2v1h-2zM529 355h1v1h-1zM532 355h1v1h-1zM404 356h3v1h-3zM408 356h1v1h-1zM414 356h8v1h-8zM423 356h2v1h-2zM426 356h8v1h-8zM435 356h17v1h-17zM454 356h1v1h-1zM456 356h11v1h-11zM470 356h1v1h-1zM472 356h1v1h-1zM474 356h1v1h-1zM480 356h1v1h-1zM492 356h1v1h-1zM495 356h1v1h-1zM498 356h3v1h-3zM502 356h6v1h-6zM510 356h3v1h-3zM375 357h1v1h-1zM406 357h1v1h-1zM409 357h1v1h-1zM411 357h1v1h-1zM414 357h2v1h-2zM417 357h1v1h-1zM419 357h6v1h-6zM426 357h8v1h-8zM435 357h8v1h-8zM444 357h10v1h-10zM455 357h13v1h-13zM469 357h1v1h-1zM472 357h1v1h-1zM474 357h1v1h-1zM476 357h2v1h-2zM481 357h1v1h-1zM483 357h2v1h-2zM486 357h2v1h-2zM490 357h1v1h-1zM495 357h2v1h-2zM500 357h4v1h-4zM505 357h1v1h-1zM509 357h2v1h-2zM517 357h1v1h-1zM522 357h1v1h-1zM526 357h1v1h-1zM372 358h1v1h-1zM410 358h1v1h-1zM414 358h5v1h-5zM420 358h4v1h-4zM425 358h4v1h-4zM430 358h1v1h-1zM432 358h7v1h-7zM441 358h5v1h-5zM448 358h6v1h-6zM455 358h6v1h-6zM462 358h4v1h-4zM468 358h2v1h-2zM471 358h2v1h-2zM474 358h3v1h-3zM480 358h2v1h-2zM483 358h1v1h-1zM490 358h4v1h-4zM496 358h1v1h-1zM500 358h3v1h-3zM504 358h1v1h-1zM506 358h1v1h-1zM508 358h1v1h-1zM511 358h1v1h-1zM517 358h1v1h-1zM526 358h1v1h-1zM530 358h1v1h-1zM372 359h1v1h-1zM404 359h3v1h-3zM410 359h1v1h-1zM414 359h2v1h-2zM417 359h6v1h-6zM424 359h3v1h-3zM428 359h1v1h-1zM430 359h2v1h-2zM433 359h6v1h-6zM440 359h17v1h-17zM458 359h1v1h-1zM460 359h3v1h-3zM464 359h5v1h-5zM470 359h1v1h-1zM473 359h3v1h-3zM483 359h1v1h-1zM487 359h1v1h-1zM490 359h1v1h-1zM495 359h1v1h-1zM500 359h1v1h-1zM503 359h1v1h-1zM505 359h1v1h-1zM508 359h1v1h-1zM510 359h1v1h-1zM517 359h1v1h-1zM526 359h1v1h-1zM375 360h1v1h-1zM406 360h1v1h-1zM408 360h1v1h-1zM414 360h1v1h-1zM416 360h6v1h-6zM423 360h6v1h-6zM430 360h1v1h-1zM432 360h1v1h-1zM434 360h14v1h-14zM449 360h3v1h-3zM454 360h10v1h-10zM465 360h1v1h-1zM469 360h1v1h-1zM471 360h2v1h-2zM474 360h4v1h-4zM479 360h1v1h-1zM489 360h1v1h-1zM491 360h1v1h-1zM493 360h1v1h-1zM500 360h1v1h-1zM502 360h2v1h-2zM507 360h1v1h-1zM517 360h1v1h-1zM526 360h1v1h-1zM375 361h1v1h-1zM398 361h1v1h-1zM404 361h2v1h-2zM407 361h3v1h-3zM414 361h10v1h-10zM425 361h1v1h-1zM427 361h8v1h-8zM436 361h5v1h-5zM442 361h10v1h-10zM453 361h1v1h-1zM455 361h5v1h-5zM461 361h5v1h-5zM471 361h1v1h-1zM474 361h3v1h-3zM479 361h1v1h-1zM485 361h1v1h-1zM492 361h1v1h-1zM499 361h1v1h-1zM502 361h2v1h-2zM505 361h1v1h-1zM509 361h1v1h-1zM512 361h1v1h-1zM517 361h1v1h-1zM526 361h1v1h-1zM372 362h1v1h-1zM375 362h1v1h-1zM398 362h1v1h-1zM404 362h1v1h-1zM407 362h1v1h-1zM410 362h3v1h-3zM414 362h1v1h-1zM417 362h3v1h-3zM421 362h1v1h-1zM423 362h1v1h-1zM425 362h1v1h-1zM428 362h5v1h-5zM434 362h3v1h-3zM438 362h1v1h-1zM440 362h1v1h-1zM442 362h7v1h-7zM450 362h5v1h-5zM456 362h5v1h-5zM462 362h1v1h-1zM464 362h3v1h-3zM468 362h2v1h-2zM472 362h1v1h-1zM474 362h1v1h-1zM481 362h1v1h-1zM483 362h1v1h-1zM490 362h1v1h-1zM500 362h2v1h-2zM503 362h4v1h-4zM509 362h1v1h-1zM511 362h2v1h-2zM517 362h1v1h-1zM526 362h1v1h-1zM375 363h1v1h-1zM405 363h1v1h-1zM408 363h1v1h-1zM410 363h2v1h-2zM414 363h1v1h-1zM416 363h1v1h-1zM418 363h2v1h-2zM421 363h1v1h-1zM423 363h4v1h-4zM430 363h1v1h-1zM432 363h1v1h-1zM434 363h1v1h-1zM436 363h4v1h-4zM441 363h3v1h-3zM445 363h1v1h-1zM448 363h3v1h-3zM452 363h7v1h-7zM460 363h4v1h-4zM465 363h1v1h-1zM467 363h1v1h-1zM469 363h1v1h-1zM474 363h2v1h-2zM477 363h1v1h-1zM487 363h1v1h-1zM490 363h1v1h-1zM500 363h4v1h-4zM505 363h1v1h-1zM507 363h1v1h-1zM509 363h1v1h-1zM517 363h1v1h-1zM372 364h1v1h-1zM375 364h1v1h-1zM404 364h1v1h-1zM408 364h5v1h-5zM414 364h6v1h-6zM422 364h6v1h-6zM429 364h1v1h-1zM431 364h5v1h-5zM437 364h10v1h-10zM448 364h5v1h-5zM456 364h11v1h-11zM470 364h1v1h-1zM473 364h1v1h-1zM479 364h1v1h-1zM481 364h1v1h-1zM483 364h1v1h-1zM492 364h1v1h-1zM495 364h2v1h-2zM499 364h2v1h-2zM502 364h1v1h-1zM505 364h4v1h-4zM511 364h2v1h-2zM517 364h1v1h-1zM522 364h1v1h-1zM375 365h1v1h-1zM404 365h1v1h-1zM408 365h1v1h-1zM411 365h1v1h-1zM415 365h1v1h-1zM417 365h2v1h-2zM420 365h6v1h-6zM427 365h17v1h-17zM446 365h1v1h-1zM448 365h2v1h-2zM451 365h1v1h-1zM454 365h1v1h-1zM456 365h6v1h-6zM464 365h3v1h-3zM470 365h1v1h-1zM477 365h1v1h-1zM479 365h1v1h-1zM483 365h2v1h-2zM499 365h4v1h-4zM505 365h1v1h-1zM507 365h2v1h-2zM510 365h1v1h-1zM517 365h1v1h-1zM398 366h1v1h-1zM405 366h2v1h-2zM408 366h1v1h-1zM413 366h8v1h-8zM423 366h1v1h-1zM425 366h6v1h-6zM432 366h7v1h-7zM440 366h8v1h-8zM449 366h5v1h-5zM455 366h1v1h-1zM457 366h5v1h-5zM463 366h2v1h-2zM469 366h3v1h-3zM476 366h1v1h-1zM479 366h2v1h-2zM483 366h1v1h-1zM489 366h2v1h-2zM493 366h1v1h-1zM496 366h1v1h-1zM499 366h3v1h-3zM503 366h1v1h-1zM506 366h1v1h-1zM508 366h1v1h-1zM510 366h1v1h-1zM530 366h1v1h-1zM372 367h1v1h-1zM405 367h1v1h-1zM408 367h1v1h-1zM410 367h2v1h-2zM413 367h5v1h-5zM419 367h3v1h-3zM423 367h3v1h-3zM427 367h4v1h-4zM432 367h3v1h-3zM437 367h1v1h-1zM439 367h11v1h-11zM451 367h2v1h-2zM454 367h1v1h-1zM456 367h11v1h-11zM468 367h1v1h-1zM471 367h1v1h-1zM475 367h2v1h-2zM479 367h3v1h-3zM483 367h1v1h-1zM493 367h1v1h-1zM495 367h1v1h-1zM499 367h2v1h-2zM502 367h4v1h-4zM507 367h2v1h-2zM510 367h2v1h-2zM372 368h1v1h-1zM375 368h1v1h-1zM404 368h4v1h-4zM410 368h2v1h-2zM414 368h8v1h-8zM424 368h2v1h-2zM427 368h1v1h-1zM429 368h3v1h-3zM433 368h14v1h-14zM448 368h2v1h-2zM451 368h3v1h-3zM455 368h11v1h-11zM473 368h1v1h-1zM477 368h1v1h-1zM487 368h1v1h-1zM489 368h1v1h-1zM492 368h1v1h-1zM494 368h1v1h-1zM496 368h1v1h-1zM500 368h1v1h-1zM502 368h2v1h-2zM505 368h1v1h-1zM507 368h2v1h-2zM510 368h1v1h-1zM517 368h1v1h-1zM372 369h1v1h-1zM375 369h1v1h-1zM404 369h1v1h-1zM406 369h1v1h-1zM408 369h3v1h-3zM412 369h1v1h-1zM414 369h1v1h-1zM416 369h11v1h-11zM428 369h4v1h-4zM435 369h1v1h-1zM437 369h2v1h-2zM440 369h1v1h-1zM442 369h3v1h-3zM447 369h1v1h-1zM449 369h4v1h-4zM454 369h8v1h-8zM463 369h3v1h-3zM467 369h3v1h-3zM471 369h1v1h-1zM473 369h3v1h-3zM480 369h2v1h-2zM483 369h1v1h-1zM494 369h2v1h-2zM497 369h1v1h-1zM499 369h1v1h-1zM501 369h1v1h-1zM504 369h3v1h-3zM508 369h1v1h-1zM510 369h1v1h-1zM517 369h1v1h-1zM404 370h1v1h-1zM410 370h2v1h-2zM414 370h5v1h-5zM420 370h3v1h-3zM424 370h2v1h-2zM427 370h1v1h-1zM429 370h4v1h-4zM434 370h2v1h-2zM438 370h3v1h-3zM442 370h6v1h-6zM449 370h1v1h-1zM452 370h1v1h-1zM454 370h2v1h-2zM457 370h7v1h-7zM465 370h1v1h-1zM467 370h1v1h-1zM469 370h4v1h-4zM477 370h1v1h-1zM481 370h1v1h-1zM489 370h1v1h-1zM493 370h1v1h-1zM502 370h2v1h-2zM505 370h2v1h-2zM511 370h1v1h-1zM517 370h1v1h-1zM530 370h1v1h-1zM410 371h3v1h-3zM415 371h7v1h-7zM424 371h3v1h-3zM428 371h4v1h-4zM433 371h6v1h-6zM441 371h3v1h-3zM445 371h15v1h-15zM463 371h3v1h-3zM467 371h2v1h-2zM470 371h1v1h-1zM472 371h3v1h-3zM506 371h1v1h-1zM508 371h2v1h-2zM530 371h1v1h-1zM320 372h2v1h-2zM323 372h3v1h-3zM327 372h11v1h-11zM339 372h1v1h-1zM341 372h39v1h-39zM381 372h4v1h-4zM387 372h4v1h-4zM392 372h11v1h-11zM404 372h5v1h-5zM411 372h1v1h-1zM414 372h7v1h-7zM422 372h1v1h-1zM425 372h8v1h-8zM434 372h3v1h-3zM438 372h6v1h-6zM445 372h1v1h-1zM448 372h1v1h-1zM451 372h17v1h-17zM469 372h1v1h-1zM471 372h3v1h-3zM502 372h3v1h-3zM506 372h1v1h-1zM510 372h2v1h-2zM517 372h1v1h-1zM530 372h1v1h-1zM322 373h3v1h-3zM326 373h5v1h-5zM332 373h10v1h-10zM343 373h17v1h-17zM361 373h1v1h-1zM363 373h10v1h-10zM374 373h4v1h-4zM379 373h1v1h-1zM382 373h8v1h-8zM391 373h6v1h-6zM398 373h5v1h-5zM404 373h2v1h-2zM410 373h1v1h-1zM412 373h2v1h-2zM429 373h1v1h-1zM500 373h1v1h-1zM502 373h1v1h-1zM506 373h1v1h-1zM508 373h1v1h-1zM510 373h2v1h-2zM299 374h1v1h-1zM320 374h1v1h-1zM322 374h4v1h-4zM327 374h47v1h-47zM375 374h3v1h-3zM380 374h6v1h-6zM387 374h1v1h-1zM390 374h2v1h-2zM393 374h8v1h-8zM402 374h9v1h-9zM446 374h1v1h-1zM299 375h1v1h-1zM323 375h35v1h-35zM359 375h14v1h-14zM374 375h3v1h-3zM378 375h3v1h-3zM382 375h7v1h-7zM390 375h6v1h-6zM397 375h8v1h-8zM406 375h1v1h-1zM409 375h5v1h-5zM429 375h1v1h-1zM438 375h1v1h-1zM322 376h1v1h-1zM325 376h1v1h-1zM328 376h15v1h-15zM344 376h21v1h-21zM366 376h6v1h-6zM373 376h5v1h-5zM379 376h8v1h-8zM389 376h2v1h-2zM392 376h1v1h-1zM394 376h14v1h-14zM410 376h3v1h-3zM421 376h1v1h-1zM438 376h1v1h-1zM320 377h6v1h-6zM327 377h5v1h-5zM333 377h15v1h-15zM349 377h19v1h-19zM370 377h3v1h-3zM374 377h5v1h-5zM380 377h1v1h-1zM382 377h4v1h-4zM387 377h4v1h-4zM393 377h5v1h-5zM399 377h6v1h-6zM406 377h5v1h-5zM412 377h1v1h-1zM421 377h1v1h-1zM438 377h1v1h-1zM446 377h1v1h-1zM320 378h1v1h-1zM322 378h2v1h-2zM326 378h42v1h-42zM369 378h6v1h-6zM376 378h3v1h-3zM380 378h6v1h-6zM387 378h9v1h-9zM399 378h6v1h-6zM407 378h1v1h-1zM409 378h1v1h-1zM411 378h1v1h-1zM413 378h1v1h-1zM421 378h1v1h-1zM429 378h1v1h-1zM446 378h1v1h-1zM321 379h6v1h-6zM328 379h12v1h-12zM341 379h1v1h-1zM343 379h10v1h-10zM354 379h20v1h-20zM375 379h1v1h-1zM378 379h4v1h-4zM383 379h2v1h-2zM386 379h2v1h-2zM389 379h6v1h-6zM396 379h3v1h-3zM400 379h5v1h-5zM406 379h4v1h-4zM411 379h3v1h-3zM429 379h1v1h-1zM446 379h1v1h-1zM299 380h1v1h-1zM320 380h1v1h-1zM324 380h11v1h-11zM336 380h19v1h-19zM356 380h19v1h-19zM376 380h5v1h-5zM382 380h8v1h-8zM391 380h3v1h-3zM395 380h11v1h-11zM407 380h3v1h-3zM411 380h2v1h-2zM429 380h1v1h-1zM299 381h1v1h-1zM320 381h1v1h-1zM325 381h17v1h-17zM343 381h37v1h-37zM381 381h7v1h-7zM389 381h3v1h-3zM394 381h5v1h-5zM401 381h1v1h-1zM403 381h7v1h-7zM411 381h3v1h-3zM421 381h1v1h-1zM438 381h1v1h-1zM446 381h1v1h-1zM299 382h1v1h-1zM322 382h2v1h-2zM325 382h1v1h-1zM327 382h9v1h-9zM337 382h18v1h-18zM356 382h4v1h-4zM361 382h14v1h-14zM376 382h1v1h-1zM378 382h5v1h-5zM384 382h8v1h-8zM393 382h3v1h-3zM397 382h4v1h-4zM402 382h1v1h-1zM404 382h7v1h-7zM412 382h2v1h-2zM421 382h1v1h-1zM446 382h1v1h-1zM299 383h1v1h-1zM320 383h1v1h-1zM323 383h44v1h-44zM368 383h4v1h-4zM373 383h3v1h-3zM377 383h1v1h-1zM380 383h12v1h-12zM395 383h10v1h-10zM406 383h1v1h-1zM409 383h2v1h-2zM412 383h1v1h-1zM429 383h1v1h-1zM438 383h1v1h-1zM320 384h16v1h-16zM337 384h12v1h-12zM350 384h16v1h-16zM367 384h4v1h-4zM372 384h6v1h-6zM379 384h3v1h-3zM383 384h2v1h-2zM386 384h3v1h-3zM390 384h5v1h-5zM397 384h2v1h-2zM400 384h5v1h-5zM406 384h1v1h-1zM408 384h4v1h-4zM421 384h1v1h-1zM429 384h1v1h-1zM438 384h1v1h-1zM299 385h1v1h-1zM320 385h1v1h-1zM323 385h1v1h-1zM326 385h4v1h-4zM331 385h3v1h-3zM335 385h31v1h-31zM367 385h3v1h-3zM371 385h6v1h-6zM378 385h5v1h-5zM384 385h4v1h-4zM389 385h3v1h-3zM393 385h2v1h-2zM396 385h2v1h-2zM399 385h1v1h-1zM401 385h6v1h-6zM408 385h1v1h-1zM410 385h1v1h-1zM282 386h1v1h-1zM299 386h1v1h-1zM320 386h4v1h-4zM326 386h35v1h-35zM362 386h10v1h-10zM373 386h13v1h-13zM387 386h2v1h-2zM391 386h1v1h-1zM393 386h1v1h-1zM396 386h10v1h-10zM408 386h1v1h-1zM410 386h1v1h-1zM438 386h1v1h-1zM446 386h1v1h-1zM320 387h1v1h-1zM322 387h1v1h-1zM324 387h18v1h-18zM343 387h1v1h-1zM345 387h8v1h-8zM354 387h12v1h-12zM367 387h7v1h-7zM375 387h6v1h-6zM382 387h5v1h-5zM388 387h3v1h-3zM392 387h6v1h-6zM399 387h3v1h-3zM404 387h4v1h-4zM410 387h1v1h-1zM413 387h1v1h-1zM421 387h1v1h-1zM438 387h1v1h-1zM446 387h1v1h-1zM299 388h1v1h-1zM320 388h1v1h-1zM322 388h2v1h-2zM327 388h1v1h-1zM329 388h8v1h-8zM338 388h39v1h-39zM378 388h9v1h-9zM389 388h1v1h-1zM392 388h1v1h-1zM394 388h1v1h-1zM396 388h1v1h-1zM398 388h5v1h-5zM404 388h5v1h-5zM410 388h1v1h-1zM412 388h1v1h-1zM429 388h1v1h-1zM438 388h1v1h-1zM282 389h1v1h-1zM320 389h1v1h-1zM325 389h12v1h-12zM338 389h17v1h-17zM356 389h12v1h-12zM369 389h3v1h-3zM373 389h3v1h-3zM377 389h3v1h-3zM381 389h7v1h-7zM390 389h4v1h-4zM395 389h4v1h-4zM400 389h2v1h-2zM403 389h3v1h-3zM407 389h1v1h-1zM411 389h3v1h-3zM429 389h1v1h-1zM438 389h1v1h-1zM446 389h1v1h-1zM282 390h1v1h-1zM321 390h2v1h-2zM325 390h23v1h-23zM349 390h2v1h-2zM352 390h4v1h-4zM357 390h21v1h-21zM379 390h3v1h-3zM383 390h1v1h-1zM385 390h6v1h-6zM392 390h3v1h-3zM397 390h2v1h-2zM400 390h1v1h-1zM404 390h2v1h-2zM407 390h6v1h-6zM421 390h1v1h-1zM438 390h1v1h-1zM304 391h4v1h-4zM310 391h2v1h-2zM313 391h1v1h-1zM315 391h2v1h-2zM321 391h1v1h-1zM323 391h2v1h-2zM326 391h1v1h-1zM328 391h23v1h-23zM352 391h8v1h-8zM361 391h4v1h-4zM366 391h28v1h-28zM396 391h6v1h-6zM404 391h3v1h-3zM408 391h1v1h-1zM410 391h1v1h-1zM413 391h1v1h-1zM438 391h1v1h-1zM446 391h1v1h-1zM284 392h28v1h-28zM313 392h1v1h-1zM315 392h2v1h-2zM323 392h1v1h-1zM327 392h52v1h-52zM380 392h8v1h-8zM389 392h6v1h-6zM396 392h1v1h-1zM398 392h10v1h-10zM409 392h1v1h-1zM411 392h3v1h-3zM429 392h1v1h-1zM446 392h1v1h-1zM265 393h31v1h-31zM297 393h3v1h-3zM301 393h1v1h-1zM303 393h1v1h-1zM306 393h9v1h-9zM316 393h1v1h-1zM320 393h3v1h-3zM325 393h1v1h-1zM327 393h11v1h-11zM340 393h33v1h-33zM374 393h9v1h-9zM384 393h6v1h-6zM391 393h1v1h-1zM393 393h1v1h-1zM395 393h1v1h-1zM397 393h8v1h-8zM408 393h4v1h-4zM421 393h1v1h-1zM438 393h1v1h-1zM253 394h1v1h-1zM255 394h29v1h-29zM286 394h6v1h-6zM293 394h2v1h-2zM296 394h13v1h-13zM310 394h2v1h-2zM313 394h4v1h-4zM192 395h1v1h-1zM240 395h2v1h-2zM246 395h3v1h-3zM250 395h2v1h-2zM253 395h14v1h-14zM268 395h28v1h-28zM298 395h3v1h-3zM302 395h1v1h-1zM304 395h2v1h-2zM307 395h1v1h-1zM309 395h5v1h-5zM315 395h1v1h-1zM192 396h1v1h-1zM240 396h2v1h-2zM248 396h16v1h-16zM265 396h12v1h-12zM278 396h22v1h-22zM301 396h1v1h-1zM305 396h3v1h-3zM311 396h4v1h-4zM316 396h1v1h-1zM240 397h2v1h-2zM243 397h1v1h-1zM245 397h1v1h-1zM247 397h1v1h-1zM250 397h2v1h-2zM253 397h7v1h-7zM261 397h9v1h-9zM271 397h5v1h-5zM277 397h7v1h-7zM285 397h17v1h-17zM304 397h6v1h-6zM311 397h1v1h-1zM313 397h3v1h-3zM192 398h1v1h-1zM227 398h1v1h-1zM243 398h1v1h-1zM245 398h5v1h-5zM251 398h4v1h-4zM256 398h6v1h-6zM263 398h5v1h-5zM270 398h27v1h-27zM300 398h1v1h-1zM302 398h8v1h-8zM311 398h2v1h-2zM314 398h2v1h-2zM326 398h1v1h-1zM192 399h1v1h-1zM227 399h1v1h-1zM241 399h1v1h-1zM244 399h25v1h-25zM270 399h27v1h-27zM299 399h1v1h-1zM301 399h1v1h-1zM303 399h4v1h-4zM308 399h3v1h-3zM312 399h2v1h-2zM316 399h1v1h-1zM326 399h1v1h-1zM240 400h2v1h-2zM243 400h1v1h-1zM246 400h1v1h-1zM248 400h5v1h-5zM255 400h29v1h-29zM285 400h12v1h-12zM299 400h2v1h-2zM302 400h5v1h-5zM308 400h6v1h-6zM315 400h1v1h-1zM241 401h1v1h-1zM245 401h4v1h-4zM250 401h3v1h-3zM254 401h20v1h-20zM275 401h20v1h-20zM296 401h2v1h-2zM300 401h4v1h-4zM305 401h3v1h-3zM309 401h3v1h-3zM313 401h1v1h-1zM315 401h2v1h-2zM245 402h1v1h-1zM247 402h6v1h-6zM254 402h12v1h-12zM267 402h4v1h-4zM272 402h1v1h-1zM274 402h10v1h-10zM286 402h3v1h-3zM290 402h9v1h-9zM300 402h2v1h-2zM303 402h1v1h-1zM306 402h4v1h-4zM311 402h2v1h-2zM314 402h3v1h-3zM326 402h1v1h-1zM240 403h1v1h-1zM244 403h1v1h-1zM246 403h35v1h-35zM282 403h4v1h-4zM287 403h9v1h-9zM297 403h5v1h-5zM303 403h1v1h-1zM305 403h3v1h-3zM310 403h7v1h-7zM192 404h1v1h-1zM241 404h1v1h-1zM243 404h1v1h-1zM246 404h5v1h-5zM252 404h24v1h-24zM277 404h6v1h-6zM284 404h16v1h-16zM301 404h1v1h-1zM303 404h4v1h-4zM309 404h2v1h-2zM312 404h1v1h-1zM314 404h3v1h-3zM227 405h1v1h-1zM241 405h1v1h-1zM244 405h1v1h-1zM247 405h5v1h-5zM253 405h10v1h-10zM265 405h16v1h-16zM282 405h6v1h-6zM290 405h8v1h-8zM300 405h1v1h-1zM302 405h1v1h-1zM304 405h5v1h-5zM310 405h2v1h-2zM315 405h2v1h-2zM240 406h1v1h-1zM242 406h6v1h-6zM249 406h18v1h-18zM268 406h28v1h-28zM299 406h1v1h-1zM301 406h6v1h-6zM308 406h9v1h-9zM192 407h1v1h-1zM241 407h1v1h-1zM243 407h29v1h-29zM273 407h5v1h-5zM279 407h21v1h-21zM301 407h3v1h-3zM306 407h10v1h-10zM192 408h1v1h-1zM227 408h1v1h-1zM243 408h1v1h-1zM245 408h3v1h-3zM249 408h14v1h-14zM264 408h4v1h-4zM269 408h4v1h-4zM274 408h2v1h-2zM277 408h19v1h-19zM297 408h2v1h-2zM300 408h3v1h-3zM304 408h5v1h-5zM310 408h4v1h-4zM316 408h1v1h-1zM192 409h1v1h-1zM227 409h1v1h-1zM242 409h1v1h-1zM246 409h3v1h-3zM250 409h5v1h-5zM256 409h3v1h-3zM260 409h37v1h-37zM298 409h4v1h-4zM303 409h2v1h-2zM306 409h3v1h-3zM310 409h4v1h-4zM315 409h2v1h-2zM326 409h1v1h-1zM227 410h1v1h-1zM241 410h2v1h-2zM245 410h20v1h-20zM266 410h33v1h-33zM301 410h16v1h-16zM326 410h1v1h-1zM240 411h1v1h-1zM244 411h1v1h-1zM246 411h5v1h-5zM252 411h12v1h-12zM265 411h12v1h-12zM278 411h25v1h-25zM304 411h1v1h-1zM306 411h3v1h-3zM310 411h5v1h-5zM316 411h1v1h-1zM326 411h1v1h-1zM227 412h1v1h-1zM245 412h4v1h-4zM252 412h5v1h-5zM258 412h2v1h-2zM261 412h9v1h-9zM271 412h15v1h-15zM288 412h13v1h-13zM302 412h3v1h-3zM306 412h3v1h-3zM311 412h6v1h-6zM227 413h1v1h-1zM246 413h57v1h-57zM306 413h2v1h-2zM309 413h1v1h-1zM314 413h2v1h-2zM326 413h1v1h-1zM243 414h1v1h-1zM245 414h5v1h-5zM252 414h14v1h-14zM267 414h30v1h-30zM241 415h1v1h-1zM246 415h1v1h-1zM248 415h15v1h-15zM264 415h3v1h-3zM136 416h2v1h-2zM140 416h2v1h-2zM136 417h2v1h-2zM141 417h1v1h-1zM186 417h1v1h-1zM136 418h2v1h-2zM140 418h2v1h-2zM172 418h1v1h-1zM185 418h2v1h-2zM136 419h2v1h-2zM140 419h2v1h-2zM185 419h1v1h-1zM136 420h1v1h-1zM140 420h2v1h-2zM185 420h2v1h-2zM136 421h2v1h-2zM140 421h1v1h-1zM185 421h2v1h-2zM136 422h2v1h-2zM140 422h2v1h-2zM172 422h1v1h-1zM185 422h2v1h-2zM136 423h2v1h-2zM140 423h1v1h-1zM172 423h1v1h-1zM136 424h2v1h-2zM140 424h2v1h-2zM172 424h1v1h-1zM140 425h2v1h-2zM185 425h1v1h-1zM136 426h2v1h-2zM140 426h2v1h-2zM186 426h1v1h-1zM140 427h2v1h-2zM185 427h1v1h-1zM136 428h2v1h-2zM140 428h2v1h-2zM186 428h1v1h-1zM136 429h1v1h-1zM140 429h2v1h-2zM172 429h1v1h-1zM136 430h1v1h-1zM140 430h2v1h-2zM185 430h1v1h-1zM137 431h1v1h-1zM140 431h2v1h-2zM171 431h1v1h-1zM185 431h1v1h-1zM136 432h1v1h-1zM140 432h2v1h-2zM171 432h2v1h-2zM185 432h1v1h-1zM136 433h2v1h-2zM140 433h2v1h-2zM172 433h1v1h-1zM185 433h2v1h-2zM136 434h2v1h-2zM140 434h2v1h-2zM171 434h2v1h-2zM186 434h1v1h-1zM136 435h2v1h-2zM140 435h2v1h-2zM136 436h2v1h-2zM140 436h2v1h-2zM172 436h1v1h-1z"/>
<polyline points="156,415.5 232,415.5 236,414.5 240,413.8 245,413 252,412.3 255,409.5 258,407 262,404.5 265,405.5 268,407 271,407 274,404.6 277,402.3 282,400.9 287,401.2 290,401.8 293,398.8 296,396 298,394.8 305,394.2 313,394.2 315,393 323,392.7 326,390.7 330,390.5 333,391.4 336,388.5 340,387.3 348,386 352,382 358,377 363,377 368,380 373,376 377,373.5 385,374 395,375.5 400,374 405,370 410,369 416,370 420,369 423,366 427,363.5 432,363 437,366.5 442,364 447,359 452,356 456,354.5 460,353 465,347 470,338.5 475,330 479,325 483,321 487,326 490,331 493,336.5 497,330 500,322.5 504,327 508,315 510,300 513,290 516,287 519,297 522,305 526,311 530,303 533,285 536,265 538,258 541,253 545,245 546.5,234" fill="none" stroke="#00ff00" stroke-width="3" stroke-linejoin="round"/>
<g fill="#0000ff" shape-rendering="crispEdges"><rect x="123" y="411" width="37" height="2"/><rect x="123" y="414" width="113" height="2"/><rect x="156" y="412" width="36" height="2"/><rect x="192" y="413" width="34" height="2"/><rect x="226" y="414" width="10" height="2"/><line x1="240" y1="393.9" x2="316" y2="389.9" stroke="#0000ff" stroke-width="2"/><line x1="240" y1="416.2" x2="316" y2="413.9" stroke="#0000ff" stroke-width="2"/></g>
<g><line x1="320" y1="380.5" x2="609.5" y2="139.5" stroke="#0000ff" stroke-width="2.1"/><line x1="320" y1="421.3" x2="609.5" y2="332" stroke="#0000ff" stroke-width="2.1"/></g>
<g fill="#00ffff" shape-rendering="crispEdges"><rect x="236" y="391" width="4" height="80"/><rect x="253" y="392" width="2" height="79"/><rect x="318" y="390" width="2" height="83"/><rect x="393" y="394" width="2" height="77"/></g>
<path fill="none" stroke="#00ffff" stroke-width="1.6" d="M250.5 399H260.5M255.5 394V404M251.9 395.4L259.1 402.6M251.9 402.6L259.1 395.4M390 398.5H400M395 393.5V403.5M391.4 394.9L398.6 402.1M391.4 402.1L398.6 394.9"/>
<g filter="url(#bin2)"><text transform="translate(238.5,472) rotate(-90)" font-size="14" font-weight="bold" textLength="76" lengthAdjust="spacingAndGlyphs">IRU−1&amp;2 on</text><text transform="translate(255,472) rotate(-90)" font-size="14" font-weight="bold" textLength="104.5" lengthAdjust="spacingAndGlyphs">Stuck−on Heater</text><text transform="translate(324.5,472) rotate(-90)" font-size="14" font-weight="bold" textLength="132" lengthAdjust="spacingAndGlyphs">Relaxed EPHIN Const.</text><text transform="translate(395.5,473) rotate(-90)" font-size="14" font-weight="bold" textLength="122" lengthAdjust="spacingAndGlyphs">ACIS Det House Off</text></g>
<g shape-rendering="crispEdges" fill="#000"><rect x="66" y="72" width="572" height="400" fill="none" stroke="#000" stroke-width="2"/><rect x="91" y="468" width="2" height="3"/><rect x="91" y="73" width="2" height="3"/><rect x="123" y="465" width="2" height="6"/><rect x="123" y="73" width="2" height="6"/><rect x="156" y="468" width="2" height="3"/><rect x="156" y="73" width="2" height="3"/><rect x="188" y="468" width="2" height="3"/><rect x="188" y="73" width="2" height="3"/><rect x="221" y="468" width="2" height="3"/><rect x="221" y="73" width="2" height="3"/><rect x="253" y="468" width="2" height="3"/><rect x="253" y="73" width="2" height="3"/><rect x="286" y="465" width="2" height="6"/><rect x="286" y="73" width="2" height="6"/><rect x="318" y="468" width="2" height="3"/><rect x="318" y="73" width="2" height="3"/><rect x="351" y="468" width="2" height="3"/><rect x="351" y="73" width="2" height="3"/><rect x="383" y="468" width="2" height="3"/><rect x="383" y="73" width="2" height="3"/><rect x="416" y="468" width="2" height="3"/><rect x="416" y="73" width="2" height="3"/><rect x="448" y="465" width="2" height="6"/><rect x="448" y="73" width="2" height="6"/><rect x="481" y="468" width="2" height="3"/><rect x="481" y="73" width="2" height="3"/><rect x="513" y="468" width="2" height="3"/><rect x="513" y="73" width="2" height="3"/><rect x="546" y="468" width="2" height="3"/><rect x="546" y="73" width="2" height="3"/><rect x="579" y="468" width="2" height="3"/><rect x="579" y="73" width="2" height="3"/><rect x="611" y="465" width="2" height="6"/><rect x="611" y="73" width="2" height="6"/><rect x="67" y="466" width="3" height="2"/><rect x="634" y="466" width="3" height="2"/><rect x="67" y="448" width="6" height="2"/><rect x="631" y="448" width="6" height="2"/><rect x="67" y="429" width="3" height="2"/><rect x="634" y="429" width="3" height="2"/><rect x="67" y="411" width="3" height="2"/><rect x="634" y="411" width="3" height="2"/><rect x="67" y="392" width="3" height="2"/><rect x="634" y="392" width="3" height="2"/><rect x="67" y="374" width="3" height="2"/><rect x="634" y="374" width="3" height="2"/><rect x="67" y="355" width="6" height="2"/><rect x="631" y="355" width="6" height="2"/><rect x="67" y="337" width="3" height="2"/><rect x="634" y="337" width="3" height="2"/><rect x="67" y="318" width="3" height="2"/><rect x="634" y="318" width="3" height="2"/><rect x="67" y="300" width="3" height="2"/><rect x="634" y="300" width="3" height="2"/><rect x="67" y="281" width="3" height="2"/><rect x="634" y="281" width="3" height="2"/><rect x="67" y="263" width="6" height="2"/><rect x="631" y="263" width="6" height="2"/><rect x="67" y="245" width="3" height="2"/><rect x="634" y="245" width="3" height="2"/><rect x="67" y="226" width="3" height="2"/><rect x="634" y="226" width="3" height="2"/><rect x="67" y="208" width="3" height="2"/><rect x="634" y="208" width="3" height="2"/><rect x="67" y="189" width="3" height="2"/><rect x="634" y="189" width="3" height="2"/><rect x="67" y="171" width="6" height="2"/><rect x="631" y="171" width="6" height="2"/><rect x="67" y="152" width="3" height="2"/><rect x="634" y="152" width="3" height="2"/><rect x="67" y="134" width="3" height="2"/><rect x="634" y="134" width="3" height="2"/><rect x="67" y="115" width="3" height="2"/><rect x="634" y="115" width="3" height="2"/><rect x="67" y="97" width="3" height="2"/><rect x="634" y="97" width="3" height="2"/><rect x="67" y="78" width="6" height="2"/><rect x="631" y="78" width="6" height="2"/></g>
<g filter="url(#bin)"><text x="124.8" y="488" text-anchor="middle" font-size="14" font-weight="bold" stroke="#000" stroke-width="0.7">2000</text><text x="287.3" y="488" text-anchor="middle" font-size="14" font-weight="bold" stroke="#000" stroke-width="0.7">2005</text><text x="449.8" y="488" text-anchor="middle" font-size="14" font-weight="bold" stroke="#000" stroke-width="0.7">2010</text><text x="612.3" y="488" text-anchor="middle" font-size="14" font-weight="bold" stroke="#000" stroke-width="0.7">2015</text><text transform="translate(58,79) rotate(-90)" text-anchor="middle" font-size="14" font-weight="bold" stroke="#000" stroke-width="0.7">294.4</text><text transform="translate(58,172) rotate(-90)" text-anchor="middle" font-size="14" font-weight="bold" stroke="#000" stroke-width="0.7">294.35</text><text transform="translate(58,264) rotate(-90)" text-anchor="middle" font-size="14" font-weight="bold" stroke="#000" stroke-width="0.7">294.3</text><text transform="translate(58,356) rotate(-90)" text-anchor="middle" font-size="14" font-weight="bold" stroke="#000" stroke-width="0.7">294.25</text><text transform="translate(58,449) rotate(-90)" text-anchor="middle" font-size="14" font-weight="bold" stroke="#000" stroke-width="0.7">294.2</text><text x="352" y="512" text-anchor="middle" font-size="14" font-weight="bold" textLength="72" lengthAdjust="spacingAndGlyphs">Time (Year)</text><text transform="translate(39.5,272) rotate(-90)" text-anchor="middle" font-size="14" font-weight="bold" stroke="#000" stroke-width="0.4" textLength="62" lengthAdjust="spacingAndGlyphs">OHRTHR58</text></g>
</svg></body></html>
